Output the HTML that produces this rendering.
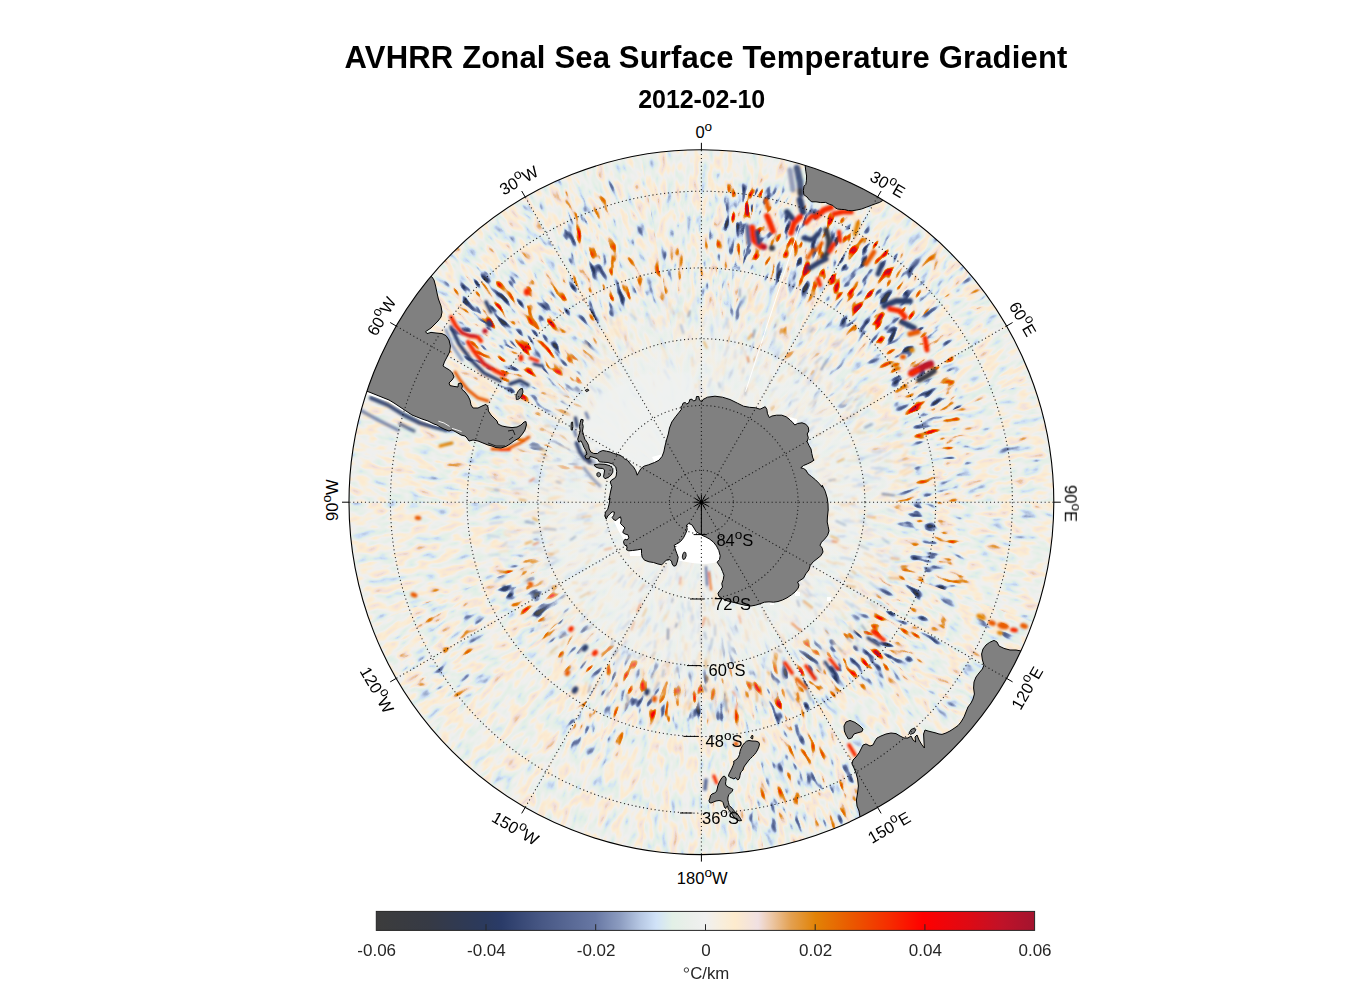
<!DOCTYPE html>
<html><head><meta charset="utf-8"><title>AVHRR Zonal Sea Surface Temperature Gradient</title>
<style>html,body{margin:0;padding:0;background:#fff}svg{display:block}text{font-family:"Liberation Sans", sans-serif}</style></head>
<body>
<svg width="1356" height="1000" viewBox="0 0 1356 1000">
<defs>
<clipPath id="disc"><circle cx="701.4" cy="502.2" r="352.4"/></clipPath>
<linearGradient id="cmap" x1="0" x2="1" y1="0" y2="0"><stop offset="0" stop-color="#3c3c3c"/><stop offset="0.08" stop-color="#363a45"/><stop offset="0.167" stop-color="#2b3a5e"/><stop offset="0.19" stop-color="#2a3b68"/><stop offset="0.25" stop-color="#475784"/><stop offset="0.333" stop-color="#6878a4"/><stop offset="0.37" stop-color="#8c9cc0"/><stop offset="0.4" stop-color="#b5c6e2"/><stop offset="0.425" stop-color="#d0e2f8"/><stop offset="0.45" stop-color="#e2f0e6"/><stop offset="0.475" stop-color="#eaefea"/><stop offset="0.5" stop-color="#f0f0f0"/><stop offset="0.525" stop-color="#f8eedc"/><stop offset="0.545" stop-color="#fdebcd"/><stop offset="0.58" stop-color="#f0e0e2"/><stop offset="0.6" stop-color="#ecc8a8"/><stop offset="0.63" stop-color="#e3a050"/><stop offset="0.667" stop-color="#e28306"/><stop offset="0.72" stop-color="#ea5a00"/><stop offset="0.78" stop-color="#f62c00"/><stop offset="0.83" stop-color="#ff0000"/><stop offset="0.9" stop-color="#de0a14"/><stop offset="0.95" stop-color="#c01228"/><stop offset="1" stop-color="#a3142f"/></linearGradient>
</defs>
<rect width="1356" height="1000" fill="#fff"/>
<g clip-path="url(#disc)">
<circle cx="701.4" cy="502.2" r="354.4" fill="#edf0ee"/>
<defs>
<g id="amp"><ellipse cx="600.0" cy="245.0" rx="120.0" ry="75.0" transform="rotate(0 600.0 245.0)" fill="rgb(56,56,56)"/><ellipse cx="460.0" cy="480.0" rx="60.0" ry="25.0" transform="rotate(0 460.0 480.0)" fill="rgb(51,51,51)"/><ellipse cx="1007.5" cy="470.0" rx="37.5" ry="130.0" transform="rotate(0 1007.5 470.0)" fill="rgb(40,40,40)"/><ellipse cx="782.5" cy="792.5" rx="82.5" ry="57.5" transform="rotate(0 782.5 792.5)" fill="rgb(56,56,56)"/><ellipse cx="442.5" cy="645.0" rx="47.5" ry="60.0" transform="rotate(0 442.5 645.0)" fill="rgb(76,76,76)"/><ellipse cx="805.0" cy="365.0" rx="65.0" ry="65.0" transform="rotate(0 805.0 365.0)" fill="rgb(56,56,56)"/><ellipse cx="957.5" cy="285.0" rx="42.5" ry="60.0" transform="rotate(0 957.5 285.0)" fill="rgb(71,71,71)"/><ellipse cx="650.0" cy="275.0" rx="50.0" ry="25.0" transform="rotate(0 650.0 275.0)" fill="rgb(89,89,89)"/><ellipse cx="930.0" cy="680.0" rx="70.0" ry="40.0" transform="rotate(0 930.0 680.0)" fill="rgb(45,45,45)"/><ellipse cx="750.0" cy="680.0" rx="50.0" ry="60.0" transform="rotate(0 750.0 680.0)" fill="rgb(63,63,63)"/><ellipse cx="590.0" cy="240.0" rx="35.0" ry="55.0" transform="rotate(0 590.0 240.0)" fill="rgb(140,140,140)"/><ellipse cx="725.0" cy="255.0" rx="25.0" ry="80.0" transform="rotate(0 725.0 255.0)" fill="rgb(107,107,107)"/><ellipse cx="455.0" cy="245.0" rx="20.0" ry="20.0" transform="rotate(0 455.0 245.0)" fill="rgb(102,102,102)"/><ellipse cx="542.5" cy="375.0" rx="22.5" ry="35.0" transform="rotate(0 542.5 375.0)" fill="rgb(114,114,114)"/><path d="M525 440 L560 455 L598 470" fill="none" stroke="rgb(114,114,114)" stroke-width="34" stroke-linecap="round" stroke-linejoin="round"/><path d="M518 582 L569 638 L599 660 L658 697 L705 700" fill="none" stroke="rgb(178,178,178)" stroke-width="46" stroke-linecap="round" stroke-linejoin="round"/><ellipse cx="597.5" cy="725.0" rx="42.5" ry="35.0" transform="rotate(0 597.5 725.0)" fill="rgb(127,127,127)"/><ellipse cx="540.0" cy="545.0" rx="12.0" ry="23.0" transform="rotate(0 540.0 545.0)" fill="rgb(96,96,96)"/><ellipse cx="907.5" cy="620.0" rx="42.5" ry="45.0" transform="rotate(0 907.5 620.0)" fill="rgb(127,127,127)"/><ellipse cx="810.0" cy="787.5" rx="50.0" ry="57.5" transform="rotate(0 810.0 787.5)" fill="rgb(122,122,122)"/><ellipse cx="731.0" cy="690.0" rx="34.0" ry="35.0" transform="rotate(0 731.0 690.0)" fill="rgb(127,127,127)"/><path d="M975 614 L1020 630" fill="none" stroke="rgb(127,127,127)" stroke-width="22" stroke-linecap="round" stroke-linejoin="round"/><ellipse cx="522.5" cy="336.5" rx="77.5" ry="68.5" transform="rotate(0 522.5 336.5)" fill="rgb(127,127,127)"/><path d="M520 430 L560 452 L600 468" fill="none" stroke="rgb(127,127,127)" stroke-width="30" stroke-linecap="round" stroke-linejoin="round"/><path d="M480 300 L520 345 L550 380" fill="none" stroke="rgb(216,216,216)" stroke-width="70" stroke-linecap="round" stroke-linejoin="round"/><path d="M560 300 L625 300" fill="none" stroke="rgb(165,165,165)" stroke-width="42" stroke-linecap="round" stroke-linejoin="round"/><path d="M765 225 L800 250 L850 262 L878 290" fill="none" stroke="rgb(255,255,255)" stroke-width="80" stroke-linecap="round" stroke-linejoin="round"/><path d="M860 300 L905 340 L930 395" fill="none" stroke="rgb(204,204,204)" stroke-width="62" stroke-linecap="round" stroke-linejoin="round"/><path d="M935 410 L940 465 L925 520 L935 575" fill="none" stroke="rgb(191,191,191)" stroke-width="56" stroke-linecap="round" stroke-linejoin="round"/><path d="M790 700 L815 665 L850 660 L888 635" fill="none" stroke="rgb(198,198,198)" stroke-width="58" stroke-linecap="round" stroke-linejoin="round"/></g>
<clipPath id="wedge"><path d="M701.4 502.2 L638.1 148.4 L638.1 144.8 L764.7 144.8 L764.7 148.4Z"/></clipPath>
<filter id="nf0" x="604" y="120" width="194" height="412" filterUnits="userSpaceOnUse" color-interpolation-filters="sRGB"><feGaussianBlur in="SourceGraphic" stdDeviation="8" result="m"/><feTurbulence type="fractalNoise" baseFrequency="0.13 0.05" numOctaves="2" seed="1"/><feColorMatrix type="matrix" values="1 0 0 0 0 1 0 0 0 0 1 0 0 0 0 0 0 0 0 1"/><feComponentTransfer result="n2"><feFuncR type="table" tableValues="0.000 0.000 0.000 0.000 0.000 0.031 0.092 0.148 0.200 0.248 0.292 0.331 0.367 0.398 0.425 0.448 0.467 0.481 0.492 0.498 0.500 0.502 0.508 0.519 0.533 0.552 0.575 0.602 0.633 0.669 0.708 0.752 0.800 0.852 0.908 0.969 1.000 1.000 1.000 1.000 1.000"/><feFuncG type="table" tableValues="0.000 0.000 0.000 0.000 0.000 0.031 0.092 0.148 0.200 0.248 0.292 0.331 0.367 0.398 0.425 0.448 0.467 0.481 0.492 0.498 0.500 0.502 0.508 0.519 0.533 0.552 0.575 0.602 0.633 0.669 0.708 0.752 0.800 0.852 0.908 0.969 1.000 1.000 1.000 1.000 1.000"/><feFuncB type="table" tableValues="0.000 0.000 0.000 0.000 0.000 0.031 0.092 0.148 0.200 0.248 0.292 0.331 0.367 0.398 0.425 0.448 0.467 0.481 0.492 0.498 0.500 0.502 0.508 0.519 0.533 0.552 0.575 0.602 0.633 0.669 0.708 0.752 0.800 0.852 0.908 0.969 1.000 1.000 1.000 1.000 1.000"/></feComponentTransfer><feComposite in="n2" in2="m" operator="arithmetic" k1="1.8" k2="0" k3="-0.9" k4="0.5" result="c1"/><feTurbulence type="fractalNoise" baseFrequency="0.12 0.052" numOctaves="2" seed="4"/><feColorMatrix type="matrix" values="1 0 0 0 0 1 0 0 0 0 1 0 0 0 0 0 0 0 0 1" result="n1"/><feComposite in="c1" in2="n1" operator="arithmetic" k1="0" k2="1" k3="0.3" k4="-0.15"/><feColorMatrix type="matrix" values="1 0 0 0 0 1 0 0 0 0 1 0 0 0 0 0 0 0 0 1"/><feComponentTransfer><feFuncR type="table" tableValues="0.235 0.232 0.228 0.224 0.221 0.217 0.213 0.208 0.202 0.196 0.189 0.183 0.177 0.171 0.167 0.165 0.184 0.207 0.231 0.255 0.278 0.298 0.317 0.337 0.356 0.376 0.395 0.425 0.473 0.520 0.576 0.643 0.710 0.763 0.816 0.851 0.886 0.902 0.918 0.929 0.941 0.957 0.973 0.985 0.985 0.967 0.948 0.935 0.925 0.911 0.896 0.889 0.888 0.887 0.891 0.898 0.906 0.913 0.922 0.931 0.941 0.951 0.961 0.970 0.979 0.988 0.996 0.986 0.963 0.940 0.917 0.894 0.871 0.841 0.812 0.782 0.753 0.725 0.696 0.668 0.639"/><feFuncG type="table" tableValues="0.235 0.234 0.233 0.232 0.230 0.229 0.228 0.227 0.227 0.227 0.227 0.227 0.227 0.227 0.229 0.231 0.250 0.273 0.295 0.318 0.341 0.361 0.380 0.400 0.419 0.439 0.458 0.488 0.535 0.583 0.639 0.708 0.776 0.831 0.886 0.914 0.941 0.939 0.937 0.939 0.941 0.937 0.933 0.926 0.915 0.900 0.885 0.843 0.784 0.719 0.654 0.604 0.566 0.528 0.489 0.452 0.414 0.376 0.338 0.300 0.263 0.225 0.188 0.147 0.104 0.060 0.017 0.004 0.011 0.018 0.025 0.032 0.039 0.047 0.055 0.063 0.071 0.073 0.075 0.076 0.078"/><feFuncB type="table" tableValues="0.235 0.241 0.246 0.252 0.257 0.263 0.268 0.279 0.293 0.307 0.321 0.335 0.349 0.364 0.382 0.404 0.426 0.449 0.472 0.495 0.518 0.537 0.555 0.574 0.593 0.612 0.631 0.656 0.694 0.731 0.775 0.831 0.886 0.929 0.973 0.937 0.902 0.910 0.918 0.929 0.941 0.902 0.863 0.826 0.816 0.845 0.875 0.801 0.659 0.515 0.371 0.255 0.157 0.059 0.020 0.014 0.009 0.003 0.000 0.000 0.000 0.000 0.000 0.000 0.000 0.000 0.000 0.008 0.022 0.036 0.050 0.064 0.078 0.098 0.118 0.137 0.157 0.164 0.171 0.177 0.184"/></feComponentTransfer></filter>
<filter id="nf1" x="604" y="120" width="194" height="412" filterUnits="userSpaceOnUse" color-interpolation-filters="sRGB"><feGaussianBlur in="SourceGraphic" stdDeviation="8" result="m"/><feTurbulence type="fractalNoise" baseFrequency="0.13 0.05" numOctaves="2" seed="8"/><feColorMatrix type="matrix" values="1 0 0 0 0 1 0 0 0 0 1 0 0 0 0 0 0 0 0 1"/><feComponentTransfer result="n2"><feFuncR type="table" tableValues="0.000 0.000 0.000 0.000 0.000 0.031 0.092 0.148 0.200 0.248 0.292 0.331 0.367 0.398 0.425 0.448 0.467 0.481 0.492 0.498 0.500 0.502 0.508 0.519 0.533 0.552 0.575 0.602 0.633 0.669 0.708 0.752 0.800 0.852 0.908 0.969 1.000 1.000 1.000 1.000 1.000"/><feFuncG type="table" tableValues="0.000 0.000 0.000 0.000 0.000 0.031 0.092 0.148 0.200 0.248 0.292 0.331 0.367 0.398 0.425 0.448 0.467 0.481 0.492 0.498 0.500 0.502 0.508 0.519 0.533 0.552 0.575 0.602 0.633 0.669 0.708 0.752 0.800 0.852 0.908 0.969 1.000 1.000 1.000 1.000 1.000"/><feFuncB type="table" tableValues="0.000 0.000 0.000 0.000 0.000 0.031 0.092 0.148 0.200 0.248 0.292 0.331 0.367 0.398 0.425 0.448 0.467 0.481 0.492 0.498 0.500 0.502 0.508 0.519 0.533 0.552 0.575 0.602 0.633 0.669 0.708 0.752 0.800 0.852 0.908 0.969 1.000 1.000 1.000 1.000 1.000"/></feComponentTransfer><feComposite in="n2" in2="m" operator="arithmetic" k1="1.8" k2="0" k3="-0.9" k4="0.5" result="c1"/><feTurbulence type="fractalNoise" baseFrequency="0.12 0.052" numOctaves="2" seed="11"/><feColorMatrix type="matrix" values="1 0 0 0 0 1 0 0 0 0 1 0 0 0 0 0 0 0 0 1" result="n1"/><feComposite in="c1" in2="n1" operator="arithmetic" k1="0" k2="1" k3="0.3" k4="-0.15"/><feColorMatrix type="matrix" values="1 0 0 0 0 1 0 0 0 0 1 0 0 0 0 0 0 0 0 1"/><feComponentTransfer><feFuncR type="table" tableValues="0.235 0.232 0.228 0.224 0.221 0.217 0.213 0.208 0.202 0.196 0.189 0.183 0.177 0.171 0.167 0.165 0.184 0.207 0.231 0.255 0.278 0.298 0.317 0.337 0.356 0.376 0.395 0.425 0.473 0.520 0.576 0.643 0.710 0.763 0.816 0.851 0.886 0.902 0.918 0.929 0.941 0.957 0.973 0.985 0.985 0.967 0.948 0.935 0.925 0.911 0.896 0.889 0.888 0.887 0.891 0.898 0.906 0.913 0.922 0.931 0.941 0.951 0.961 0.970 0.979 0.988 0.996 0.986 0.963 0.940 0.917 0.894 0.871 0.841 0.812 0.782 0.753 0.725 0.696 0.668 0.639"/><feFuncG type="table" tableValues="0.235 0.234 0.233 0.232 0.230 0.229 0.228 0.227 0.227 0.227 0.227 0.227 0.227 0.227 0.229 0.231 0.250 0.273 0.295 0.318 0.341 0.361 0.380 0.400 0.419 0.439 0.458 0.488 0.535 0.583 0.639 0.708 0.776 0.831 0.886 0.914 0.941 0.939 0.937 0.939 0.941 0.937 0.933 0.926 0.915 0.900 0.885 0.843 0.784 0.719 0.654 0.604 0.566 0.528 0.489 0.452 0.414 0.376 0.338 0.300 0.263 0.225 0.188 0.147 0.104 0.060 0.017 0.004 0.011 0.018 0.025 0.032 0.039 0.047 0.055 0.063 0.071 0.073 0.075 0.076 0.078"/><feFuncB type="table" tableValues="0.235 0.241 0.246 0.252 0.257 0.263 0.268 0.279 0.293 0.307 0.321 0.335 0.349 0.364 0.382 0.404 0.426 0.449 0.472 0.495 0.518 0.537 0.555 0.574 0.593 0.612 0.631 0.656 0.694 0.731 0.775 0.831 0.886 0.929 0.973 0.937 0.902 0.910 0.918 0.929 0.941 0.902 0.863 0.826 0.816 0.845 0.875 0.801 0.659 0.515 0.371 0.255 0.157 0.059 0.020 0.014 0.009 0.003 0.000 0.000 0.000 0.000 0.000 0.000 0.000 0.000 0.000 0.008 0.022 0.036 0.050 0.064 0.078 0.098 0.118 0.137 0.157 0.164 0.171 0.177 0.184"/></feComponentTransfer></filter>
<filter id="nf2" x="604" y="120" width="194" height="412" filterUnits="userSpaceOnUse" color-interpolation-filters="sRGB"><feGaussianBlur in="SourceGraphic" stdDeviation="8" result="m"/><feTurbulence type="fractalNoise" baseFrequency="0.13 0.05" numOctaves="2" seed="15"/><feColorMatrix type="matrix" values="1 0 0 0 0 1 0 0 0 0 1 0 0 0 0 0 0 0 0 1"/><feComponentTransfer result="n2"><feFuncR type="table" tableValues="0.000 0.000 0.000 0.000 0.000 0.031 0.092 0.148 0.200 0.248 0.292 0.331 0.367 0.398 0.425 0.448 0.467 0.481 0.492 0.498 0.500 0.502 0.508 0.519 0.533 0.552 0.575 0.602 0.633 0.669 0.708 0.752 0.800 0.852 0.908 0.969 1.000 1.000 1.000 1.000 1.000"/><feFuncG type="table" tableValues="0.000 0.000 0.000 0.000 0.000 0.031 0.092 0.148 0.200 0.248 0.292 0.331 0.367 0.398 0.425 0.448 0.467 0.481 0.492 0.498 0.500 0.502 0.508 0.519 0.533 0.552 0.575 0.602 0.633 0.669 0.708 0.752 0.800 0.852 0.908 0.969 1.000 1.000 1.000 1.000 1.000"/><feFuncB type="table" tableValues="0.000 0.000 0.000 0.000 0.000 0.031 0.092 0.148 0.200 0.248 0.292 0.331 0.367 0.398 0.425 0.448 0.467 0.481 0.492 0.498 0.500 0.502 0.508 0.519 0.533 0.552 0.575 0.602 0.633 0.669 0.708 0.752 0.800 0.852 0.908 0.969 1.000 1.000 1.000 1.000 1.000"/></feComponentTransfer><feComposite in="n2" in2="m" operator="arithmetic" k1="1.8" k2="0" k3="-0.9" k4="0.5" result="c1"/><feTurbulence type="fractalNoise" baseFrequency="0.12 0.052" numOctaves="2" seed="18"/><feColorMatrix type="matrix" values="1 0 0 0 0 1 0 0 0 0 1 0 0 0 0 0 0 0 0 1" result="n1"/><feComposite in="c1" in2="n1" operator="arithmetic" k1="0" k2="1" k3="0.3" k4="-0.15"/><feColorMatrix type="matrix" values="1 0 0 0 0 1 0 0 0 0 1 0 0 0 0 0 0 0 0 1"/><feComponentTransfer><feFuncR type="table" tableValues="0.235 0.232 0.228 0.224 0.221 0.217 0.213 0.208 0.202 0.196 0.189 0.183 0.177 0.171 0.167 0.165 0.184 0.207 0.231 0.255 0.278 0.298 0.317 0.337 0.356 0.376 0.395 0.425 0.473 0.520 0.576 0.643 0.710 0.763 0.816 0.851 0.886 0.902 0.918 0.929 0.941 0.957 0.973 0.985 0.985 0.967 0.948 0.935 0.925 0.911 0.896 0.889 0.888 0.887 0.891 0.898 0.906 0.913 0.922 0.931 0.941 0.951 0.961 0.970 0.979 0.988 0.996 0.986 0.963 0.940 0.917 0.894 0.871 0.841 0.812 0.782 0.753 0.725 0.696 0.668 0.639"/><feFuncG type="table" tableValues="0.235 0.234 0.233 0.232 0.230 0.229 0.228 0.227 0.227 0.227 0.227 0.227 0.227 0.227 0.229 0.231 0.250 0.273 0.295 0.318 0.341 0.361 0.380 0.400 0.419 0.439 0.458 0.488 0.535 0.583 0.639 0.708 0.776 0.831 0.886 0.914 0.941 0.939 0.937 0.939 0.941 0.937 0.933 0.926 0.915 0.900 0.885 0.843 0.784 0.719 0.654 0.604 0.566 0.528 0.489 0.452 0.414 0.376 0.338 0.300 0.263 0.225 0.188 0.147 0.104 0.060 0.017 0.004 0.011 0.018 0.025 0.032 0.039 0.047 0.055 0.063 0.071 0.073 0.075 0.076 0.078"/><feFuncB type="table" tableValues="0.235 0.241 0.246 0.252 0.257 0.263 0.268 0.279 0.293 0.307 0.321 0.335 0.349 0.364 0.382 0.404 0.426 0.449 0.472 0.495 0.518 0.537 0.555 0.574 0.593 0.612 0.631 0.656 0.694 0.731 0.775 0.831 0.886 0.929 0.973 0.937 0.902 0.910 0.918 0.929 0.941 0.902 0.863 0.826 0.816 0.845 0.875 0.801 0.659 0.515 0.371 0.255 0.157 0.059 0.020 0.014 0.009 0.003 0.000 0.000 0.000 0.000 0.000 0.000 0.000 0.000 0.000 0.008 0.022 0.036 0.050 0.064 0.078 0.098 0.118 0.137 0.157 0.164 0.171 0.177 0.184"/></feComponentTransfer></filter>
<filter id="nf3" x="604" y="120" width="194" height="412" filterUnits="userSpaceOnUse" color-interpolation-filters="sRGB"><feGaussianBlur in="SourceGraphic" stdDeviation="8" result="m"/><feTurbulence type="fractalNoise" baseFrequency="0.13 0.05" numOctaves="2" seed="22"/><feColorMatrix type="matrix" values="1 0 0 0 0 1 0 0 0 0 1 0 0 0 0 0 0 0 0 1"/><feComponentTransfer result="n2"><feFuncR type="table" tableValues="0.000 0.000 0.000 0.000 0.000 0.031 0.092 0.148 0.200 0.248 0.292 0.331 0.367 0.398 0.425 0.448 0.467 0.481 0.492 0.498 0.500 0.502 0.508 0.519 0.533 0.552 0.575 0.602 0.633 0.669 0.708 0.752 0.800 0.852 0.908 0.969 1.000 1.000 1.000 1.000 1.000"/><feFuncG type="table" tableValues="0.000 0.000 0.000 0.000 0.000 0.031 0.092 0.148 0.200 0.248 0.292 0.331 0.367 0.398 0.425 0.448 0.467 0.481 0.492 0.498 0.500 0.502 0.508 0.519 0.533 0.552 0.575 0.602 0.633 0.669 0.708 0.752 0.800 0.852 0.908 0.969 1.000 1.000 1.000 1.000 1.000"/><feFuncB type="table" tableValues="0.000 0.000 0.000 0.000 0.000 0.031 0.092 0.148 0.200 0.248 0.292 0.331 0.367 0.398 0.425 0.448 0.467 0.481 0.492 0.498 0.500 0.502 0.508 0.519 0.533 0.552 0.575 0.602 0.633 0.669 0.708 0.752 0.800 0.852 0.908 0.969 1.000 1.000 1.000 1.000 1.000"/></feComponentTransfer><feComposite in="n2" in2="m" operator="arithmetic" k1="1.8" k2="0" k3="-0.9" k4="0.5" result="c1"/><feTurbulence type="fractalNoise" baseFrequency="0.12 0.052" numOctaves="2" seed="25"/><feColorMatrix type="matrix" values="1 0 0 0 0 1 0 0 0 0 1 0 0 0 0 0 0 0 0 1" result="n1"/><feComposite in="c1" in2="n1" operator="arithmetic" k1="0" k2="1" k3="0.3" k4="-0.15"/><feColorMatrix type="matrix" values="1 0 0 0 0 1 0 0 0 0 1 0 0 0 0 0 0 0 0 1"/><feComponentTransfer><feFuncR type="table" tableValues="0.235 0.232 0.228 0.224 0.221 0.217 0.213 0.208 0.202 0.196 0.189 0.183 0.177 0.171 0.167 0.165 0.184 0.207 0.231 0.255 0.278 0.298 0.317 0.337 0.356 0.376 0.395 0.425 0.473 0.520 0.576 0.643 0.710 0.763 0.816 0.851 0.886 0.902 0.918 0.929 0.941 0.957 0.973 0.985 0.985 0.967 0.948 0.935 0.925 0.911 0.896 0.889 0.888 0.887 0.891 0.898 0.906 0.913 0.922 0.931 0.941 0.951 0.961 0.970 0.979 0.988 0.996 0.986 0.963 0.940 0.917 0.894 0.871 0.841 0.812 0.782 0.753 0.725 0.696 0.668 0.639"/><feFuncG type="table" tableValues="0.235 0.234 0.233 0.232 0.230 0.229 0.228 0.227 0.227 0.227 0.227 0.227 0.227 0.227 0.229 0.231 0.250 0.273 0.295 0.318 0.341 0.361 0.380 0.400 0.419 0.439 0.458 0.488 0.535 0.583 0.639 0.708 0.776 0.831 0.886 0.914 0.941 0.939 0.937 0.939 0.941 0.937 0.933 0.926 0.915 0.900 0.885 0.843 0.784 0.719 0.654 0.604 0.566 0.528 0.489 0.452 0.414 0.376 0.338 0.300 0.263 0.225 0.188 0.147 0.104 0.060 0.017 0.004 0.011 0.018 0.025 0.032 0.039 0.047 0.055 0.063 0.071 0.073 0.075 0.076 0.078"/><feFuncB type="table" tableValues="0.235 0.241 0.246 0.252 0.257 0.263 0.268 0.279 0.293 0.307 0.321 0.335 0.349 0.364 0.382 0.404 0.426 0.449 0.472 0.495 0.518 0.537 0.555 0.574 0.593 0.612 0.631 0.656 0.694 0.731 0.775 0.831 0.886 0.929 0.973 0.937 0.902 0.910 0.918 0.929 0.941 0.902 0.863 0.826 0.816 0.845 0.875 0.801 0.659 0.515 0.371 0.255 0.157 0.059 0.020 0.014 0.009 0.003 0.000 0.000 0.000 0.000 0.000 0.000 0.000 0.000 0.000 0.008 0.022 0.036 0.050 0.064 0.078 0.098 0.118 0.137 0.157 0.164 0.171 0.177 0.184"/></feComponentTransfer></filter>
<filter id="nf4" x="604" y="120" width="194" height="412" filterUnits="userSpaceOnUse" color-interpolation-filters="sRGB"><feGaussianBlur in="SourceGraphic" stdDeviation="8" result="m"/><feTurbulence type="fractalNoise" baseFrequency="0.13 0.05" numOctaves="2" seed="29"/><feColorMatrix type="matrix" values="1 0 0 0 0 1 0 0 0 0 1 0 0 0 0 0 0 0 0 1"/><feComponentTransfer result="n2"><feFuncR type="table" tableValues="0.000 0.000 0.000 0.000 0.000 0.031 0.092 0.148 0.200 0.248 0.292 0.331 0.367 0.398 0.425 0.448 0.467 0.481 0.492 0.498 0.500 0.502 0.508 0.519 0.533 0.552 0.575 0.602 0.633 0.669 0.708 0.752 0.800 0.852 0.908 0.969 1.000 1.000 1.000 1.000 1.000"/><feFuncG type="table" tableValues="0.000 0.000 0.000 0.000 0.000 0.031 0.092 0.148 0.200 0.248 0.292 0.331 0.367 0.398 0.425 0.448 0.467 0.481 0.492 0.498 0.500 0.502 0.508 0.519 0.533 0.552 0.575 0.602 0.633 0.669 0.708 0.752 0.800 0.852 0.908 0.969 1.000 1.000 1.000 1.000 1.000"/><feFuncB type="table" tableValues="0.000 0.000 0.000 0.000 0.000 0.031 0.092 0.148 0.200 0.248 0.292 0.331 0.367 0.398 0.425 0.448 0.467 0.481 0.492 0.498 0.500 0.502 0.508 0.519 0.533 0.552 0.575 0.602 0.633 0.669 0.708 0.752 0.800 0.852 0.908 0.969 1.000 1.000 1.000 1.000 1.000"/></feComponentTransfer><feComposite in="n2" in2="m" operator="arithmetic" k1="1.8" k2="0" k3="-0.9" k4="0.5" result="c1"/><feTurbulence type="fractalNoise" baseFrequency="0.12 0.052" numOctaves="2" seed="32"/><feColorMatrix type="matrix" values="1 0 0 0 0 1 0 0 0 0 1 0 0 0 0 0 0 0 0 1" result="n1"/><feComposite in="c1" in2="n1" operator="arithmetic" k1="0" k2="1" k3="0.3" k4="-0.15"/><feColorMatrix type="matrix" values="1 0 0 0 0 1 0 0 0 0 1 0 0 0 0 0 0 0 0 1"/><feComponentTransfer><feFuncR type="table" tableValues="0.235 0.232 0.228 0.224 0.221 0.217 0.213 0.208 0.202 0.196 0.189 0.183 0.177 0.171 0.167 0.165 0.184 0.207 0.231 0.255 0.278 0.298 0.317 0.337 0.356 0.376 0.395 0.425 0.473 0.520 0.576 0.643 0.710 0.763 0.816 0.851 0.886 0.902 0.918 0.929 0.941 0.957 0.973 0.985 0.985 0.967 0.948 0.935 0.925 0.911 0.896 0.889 0.888 0.887 0.891 0.898 0.906 0.913 0.922 0.931 0.941 0.951 0.961 0.970 0.979 0.988 0.996 0.986 0.963 0.940 0.917 0.894 0.871 0.841 0.812 0.782 0.753 0.725 0.696 0.668 0.639"/><feFuncG type="table" tableValues="0.235 0.234 0.233 0.232 0.230 0.229 0.228 0.227 0.227 0.227 0.227 0.227 0.227 0.227 0.229 0.231 0.250 0.273 0.295 0.318 0.341 0.361 0.380 0.400 0.419 0.439 0.458 0.488 0.535 0.583 0.639 0.708 0.776 0.831 0.886 0.914 0.941 0.939 0.937 0.939 0.941 0.937 0.933 0.926 0.915 0.900 0.885 0.843 0.784 0.719 0.654 0.604 0.566 0.528 0.489 0.452 0.414 0.376 0.338 0.300 0.263 0.225 0.188 0.147 0.104 0.060 0.017 0.004 0.011 0.018 0.025 0.032 0.039 0.047 0.055 0.063 0.071 0.073 0.075 0.076 0.078"/><feFuncB type="table" tableValues="0.235 0.241 0.246 0.252 0.257 0.263 0.268 0.279 0.293 0.307 0.321 0.335 0.349 0.364 0.382 0.404 0.426 0.449 0.472 0.495 0.518 0.537 0.555 0.574 0.593 0.612 0.631 0.656 0.694 0.731 0.775 0.831 0.886 0.929 0.973 0.937 0.902 0.910 0.918 0.929 0.941 0.902 0.863 0.826 0.816 0.845 0.875 0.801 0.659 0.515 0.371 0.255 0.157 0.059 0.020 0.014 0.009 0.003 0.000 0.000 0.000 0.000 0.000 0.000 0.000 0.000 0.000 0.008 0.022 0.036 0.050 0.064 0.078 0.098 0.118 0.137 0.157 0.164 0.171 0.177 0.184"/></feComponentTransfer></filter>
<filter id="nf5" x="604" y="120" width="194" height="412" filterUnits="userSpaceOnUse" color-interpolation-filters="sRGB"><feGaussianBlur in="SourceGraphic" stdDeviation="8" result="m"/><feTurbulence type="fractalNoise" baseFrequency="0.13 0.05" numOctaves="2" seed="36"/><feColorMatrix type="matrix" values="1 0 0 0 0 1 0 0 0 0 1 0 0 0 0 0 0 0 0 1"/><feComponentTransfer result="n2"><feFuncR type="table" tableValues="0.000 0.000 0.000 0.000 0.000 0.031 0.092 0.148 0.200 0.248 0.292 0.331 0.367 0.398 0.425 0.448 0.467 0.481 0.492 0.498 0.500 0.502 0.508 0.519 0.533 0.552 0.575 0.602 0.633 0.669 0.708 0.752 0.800 0.852 0.908 0.969 1.000 1.000 1.000 1.000 1.000"/><feFuncG type="table" tableValues="0.000 0.000 0.000 0.000 0.000 0.031 0.092 0.148 0.200 0.248 0.292 0.331 0.367 0.398 0.425 0.448 0.467 0.481 0.492 0.498 0.500 0.502 0.508 0.519 0.533 0.552 0.575 0.602 0.633 0.669 0.708 0.752 0.800 0.852 0.908 0.969 1.000 1.000 1.000 1.000 1.000"/><feFuncB type="table" tableValues="0.000 0.000 0.000 0.000 0.000 0.031 0.092 0.148 0.200 0.248 0.292 0.331 0.367 0.398 0.425 0.448 0.467 0.481 0.492 0.498 0.500 0.502 0.508 0.519 0.533 0.552 0.575 0.602 0.633 0.669 0.708 0.752 0.800 0.852 0.908 0.969 1.000 1.000 1.000 1.000 1.000"/></feComponentTransfer><feComposite in="n2" in2="m" operator="arithmetic" k1="1.8" k2="0" k3="-0.9" k4="0.5" result="c1"/><feTurbulence type="fractalNoise" baseFrequency="0.12 0.052" numOctaves="2" seed="39"/><feColorMatrix type="matrix" values="1 0 0 0 0 1 0 0 0 0 1 0 0 0 0 0 0 0 0 1" result="n1"/><feComposite in="c1" in2="n1" operator="arithmetic" k1="0" k2="1" k3="0.3" k4="-0.15"/><feColorMatrix type="matrix" values="1 0 0 0 0 1 0 0 0 0 1 0 0 0 0 0 0 0 0 1"/><feComponentTransfer><feFuncR type="table" tableValues="0.235 0.232 0.228 0.224 0.221 0.217 0.213 0.208 0.202 0.196 0.189 0.183 0.177 0.171 0.167 0.165 0.184 0.207 0.231 0.255 0.278 0.298 0.317 0.337 0.356 0.376 0.395 0.425 0.473 0.520 0.576 0.643 0.710 0.763 0.816 0.851 0.886 0.902 0.918 0.929 0.941 0.957 0.973 0.985 0.985 0.967 0.948 0.935 0.925 0.911 0.896 0.889 0.888 0.887 0.891 0.898 0.906 0.913 0.922 0.931 0.941 0.951 0.961 0.970 0.979 0.988 0.996 0.986 0.963 0.940 0.917 0.894 0.871 0.841 0.812 0.782 0.753 0.725 0.696 0.668 0.639"/><feFuncG type="table" tableValues="0.235 0.234 0.233 0.232 0.230 0.229 0.228 0.227 0.227 0.227 0.227 0.227 0.227 0.227 0.229 0.231 0.250 0.273 0.295 0.318 0.341 0.361 0.380 0.400 0.419 0.439 0.458 0.488 0.535 0.583 0.639 0.708 0.776 0.831 0.886 0.914 0.941 0.939 0.937 0.939 0.941 0.937 0.933 0.926 0.915 0.900 0.885 0.843 0.784 0.719 0.654 0.604 0.566 0.528 0.489 0.452 0.414 0.376 0.338 0.300 0.263 0.225 0.188 0.147 0.104 0.060 0.017 0.004 0.011 0.018 0.025 0.032 0.039 0.047 0.055 0.063 0.071 0.073 0.075 0.076 0.078"/><feFuncB type="table" tableValues="0.235 0.241 0.246 0.252 0.257 0.263 0.268 0.279 0.293 0.307 0.321 0.335 0.349 0.364 0.382 0.404 0.426 0.449 0.472 0.495 0.518 0.537 0.555 0.574 0.593 0.612 0.631 0.656 0.694 0.731 0.775 0.831 0.886 0.929 0.973 0.937 0.902 0.910 0.918 0.929 0.941 0.902 0.863 0.826 0.816 0.845 0.875 0.801 0.659 0.515 0.371 0.255 0.157 0.059 0.020 0.014 0.009 0.003 0.000 0.000 0.000 0.000 0.000 0.000 0.000 0.000 0.000 0.008 0.022 0.036 0.050 0.064 0.078 0.098 0.118 0.137 0.157 0.164 0.171 0.177 0.184"/></feComponentTransfer></filter>
<filter id="nf6" x="604" y="120" width="194" height="412" filterUnits="userSpaceOnUse" color-interpolation-filters="sRGB"><feGaussianBlur in="SourceGraphic" stdDeviation="8" result="m"/><feTurbulence type="fractalNoise" baseFrequency="0.13 0.05" numOctaves="2" seed="43"/><feColorMatrix type="matrix" values="1 0 0 0 0 1 0 0 0 0 1 0 0 0 0 0 0 0 0 1"/><feComponentTransfer result="n2"><feFuncR type="table" tableValues="0.000 0.000 0.000 0.000 0.000 0.031 0.092 0.148 0.200 0.248 0.292 0.331 0.367 0.398 0.425 0.448 0.467 0.481 0.492 0.498 0.500 0.502 0.508 0.519 0.533 0.552 0.575 0.602 0.633 0.669 0.708 0.752 0.800 0.852 0.908 0.969 1.000 1.000 1.000 1.000 1.000"/><feFuncG type="table" tableValues="0.000 0.000 0.000 0.000 0.000 0.031 0.092 0.148 0.200 0.248 0.292 0.331 0.367 0.398 0.425 0.448 0.467 0.481 0.492 0.498 0.500 0.502 0.508 0.519 0.533 0.552 0.575 0.602 0.633 0.669 0.708 0.752 0.800 0.852 0.908 0.969 1.000 1.000 1.000 1.000 1.000"/><feFuncB type="table" tableValues="0.000 0.000 0.000 0.000 0.000 0.031 0.092 0.148 0.200 0.248 0.292 0.331 0.367 0.398 0.425 0.448 0.467 0.481 0.492 0.498 0.500 0.502 0.508 0.519 0.533 0.552 0.575 0.602 0.633 0.669 0.708 0.752 0.800 0.852 0.908 0.969 1.000 1.000 1.000 1.000 1.000"/></feComponentTransfer><feComposite in="n2" in2="m" operator="arithmetic" k1="1.8" k2="0" k3="-0.9" k4="0.5" result="c1"/><feTurbulence type="fractalNoise" baseFrequency="0.12 0.052" numOctaves="2" seed="46"/><feColorMatrix type="matrix" values="1 0 0 0 0 1 0 0 0 0 1 0 0 0 0 0 0 0 0 1" result="n1"/><feComposite in="c1" in2="n1" operator="arithmetic" k1="0" k2="1" k3="0.3" k4="-0.15"/><feColorMatrix type="matrix" values="1 0 0 0 0 1 0 0 0 0 1 0 0 0 0 0 0 0 0 1"/><feComponentTransfer><feFuncR type="table" tableValues="0.235 0.232 0.228 0.224 0.221 0.217 0.213 0.208 0.202 0.196 0.189 0.183 0.177 0.171 0.167 0.165 0.184 0.207 0.231 0.255 0.278 0.298 0.317 0.337 0.356 0.376 0.395 0.425 0.473 0.520 0.576 0.643 0.710 0.763 0.816 0.851 0.886 0.902 0.918 0.929 0.941 0.957 0.973 0.985 0.985 0.967 0.948 0.935 0.925 0.911 0.896 0.889 0.888 0.887 0.891 0.898 0.906 0.913 0.922 0.931 0.941 0.951 0.961 0.970 0.979 0.988 0.996 0.986 0.963 0.940 0.917 0.894 0.871 0.841 0.812 0.782 0.753 0.725 0.696 0.668 0.639"/><feFuncG type="table" tableValues="0.235 0.234 0.233 0.232 0.230 0.229 0.228 0.227 0.227 0.227 0.227 0.227 0.227 0.227 0.229 0.231 0.250 0.273 0.295 0.318 0.341 0.361 0.380 0.400 0.419 0.439 0.458 0.488 0.535 0.583 0.639 0.708 0.776 0.831 0.886 0.914 0.941 0.939 0.937 0.939 0.941 0.937 0.933 0.926 0.915 0.900 0.885 0.843 0.784 0.719 0.654 0.604 0.566 0.528 0.489 0.452 0.414 0.376 0.338 0.300 0.263 0.225 0.188 0.147 0.104 0.060 0.017 0.004 0.011 0.018 0.025 0.032 0.039 0.047 0.055 0.063 0.071 0.073 0.075 0.076 0.078"/><feFuncB type="table" tableValues="0.235 0.241 0.246 0.252 0.257 0.263 0.268 0.279 0.293 0.307 0.321 0.335 0.349 0.364 0.382 0.404 0.426 0.449 0.472 0.495 0.518 0.537 0.555 0.574 0.593 0.612 0.631 0.656 0.694 0.731 0.775 0.831 0.886 0.929 0.973 0.937 0.902 0.910 0.918 0.929 0.941 0.902 0.863 0.826 0.816 0.845 0.875 0.801 0.659 0.515 0.371 0.255 0.157 0.059 0.020 0.014 0.009 0.003 0.000 0.000 0.000 0.000 0.000 0.000 0.000 0.000 0.000 0.008 0.022 0.036 0.050 0.064 0.078 0.098 0.118 0.137 0.157 0.164 0.171 0.177 0.184"/></feComponentTransfer></filter>
<filter id="nf7" x="604" y="120" width="194" height="412" filterUnits="userSpaceOnUse" color-interpolation-filters="sRGB"><feGaussianBlur in="SourceGraphic" stdDeviation="8" result="m"/><feTurbulence type="fractalNoise" baseFrequency="0.13 0.05" numOctaves="2" seed="50"/><feColorMatrix type="matrix" values="1 0 0 0 0 1 0 0 0 0 1 0 0 0 0 0 0 0 0 1"/><feComponentTransfer result="n2"><feFuncR type="table" tableValues="0.000 0.000 0.000 0.000 0.000 0.031 0.092 0.148 0.200 0.248 0.292 0.331 0.367 0.398 0.425 0.448 0.467 0.481 0.492 0.498 0.500 0.502 0.508 0.519 0.533 0.552 0.575 0.602 0.633 0.669 0.708 0.752 0.800 0.852 0.908 0.969 1.000 1.000 1.000 1.000 1.000"/><feFuncG type="table" tableValues="0.000 0.000 0.000 0.000 0.000 0.031 0.092 0.148 0.200 0.248 0.292 0.331 0.367 0.398 0.425 0.448 0.467 0.481 0.492 0.498 0.500 0.502 0.508 0.519 0.533 0.552 0.575 0.602 0.633 0.669 0.708 0.752 0.800 0.852 0.908 0.969 1.000 1.000 1.000 1.000 1.000"/><feFuncB type="table" tableValues="0.000 0.000 0.000 0.000 0.000 0.031 0.092 0.148 0.200 0.248 0.292 0.331 0.367 0.398 0.425 0.448 0.467 0.481 0.492 0.498 0.500 0.502 0.508 0.519 0.533 0.552 0.575 0.602 0.633 0.669 0.708 0.752 0.800 0.852 0.908 0.969 1.000 1.000 1.000 1.000 1.000"/></feComponentTransfer><feComposite in="n2" in2="m" operator="arithmetic" k1="1.8" k2="0" k3="-0.9" k4="0.5" result="c1"/><feTurbulence type="fractalNoise" baseFrequency="0.12 0.052" numOctaves="2" seed="53"/><feColorMatrix type="matrix" values="1 0 0 0 0 1 0 0 0 0 1 0 0 0 0 0 0 0 0 1" result="n1"/><feComposite in="c1" in2="n1" operator="arithmetic" k1="0" k2="1" k3="0.3" k4="-0.15"/><feColorMatrix type="matrix" values="1 0 0 0 0 1 0 0 0 0 1 0 0 0 0 0 0 0 0 1"/><feComponentTransfer><feFuncR type="table" tableValues="0.235 0.232 0.228 0.224 0.221 0.217 0.213 0.208 0.202 0.196 0.189 0.183 0.177 0.171 0.167 0.165 0.184 0.207 0.231 0.255 0.278 0.298 0.317 0.337 0.356 0.376 0.395 0.425 0.473 0.520 0.576 0.643 0.710 0.763 0.816 0.851 0.886 0.902 0.918 0.929 0.941 0.957 0.973 0.985 0.985 0.967 0.948 0.935 0.925 0.911 0.896 0.889 0.888 0.887 0.891 0.898 0.906 0.913 0.922 0.931 0.941 0.951 0.961 0.970 0.979 0.988 0.996 0.986 0.963 0.940 0.917 0.894 0.871 0.841 0.812 0.782 0.753 0.725 0.696 0.668 0.639"/><feFuncG type="table" tableValues="0.235 0.234 0.233 0.232 0.230 0.229 0.228 0.227 0.227 0.227 0.227 0.227 0.227 0.227 0.229 0.231 0.250 0.273 0.295 0.318 0.341 0.361 0.380 0.400 0.419 0.439 0.458 0.488 0.535 0.583 0.639 0.708 0.776 0.831 0.886 0.914 0.941 0.939 0.937 0.939 0.941 0.937 0.933 0.926 0.915 0.900 0.885 0.843 0.784 0.719 0.654 0.604 0.566 0.528 0.489 0.452 0.414 0.376 0.338 0.300 0.263 0.225 0.188 0.147 0.104 0.060 0.017 0.004 0.011 0.018 0.025 0.032 0.039 0.047 0.055 0.063 0.071 0.073 0.075 0.076 0.078"/><feFuncB type="table" tableValues="0.235 0.241 0.246 0.252 0.257 0.263 0.268 0.279 0.293 0.307 0.321 0.335 0.349 0.364 0.382 0.404 0.426 0.449 0.472 0.495 0.518 0.537 0.555 0.574 0.593 0.612 0.631 0.656 0.694 0.731 0.775 0.831 0.886 0.929 0.973 0.937 0.902 0.910 0.918 0.929 0.941 0.902 0.863 0.826 0.816 0.845 0.875 0.801 0.659 0.515 0.371 0.255 0.157 0.059 0.020 0.014 0.009 0.003 0.000 0.000 0.000 0.000 0.000 0.000 0.000 0.000 0.000 0.008 0.022 0.036 0.050 0.064 0.078 0.098 0.118 0.137 0.157 0.164 0.171 0.177 0.184"/></feComponentTransfer></filter>
<filter id="nf8" x="604" y="120" width="194" height="412" filterUnits="userSpaceOnUse" color-interpolation-filters="sRGB"><feGaussianBlur in="SourceGraphic" stdDeviation="8" result="m"/><feTurbulence type="fractalNoise" baseFrequency="0.13 0.05" numOctaves="2" seed="57"/><feColorMatrix type="matrix" values="1 0 0 0 0 1 0 0 0 0 1 0 0 0 0 0 0 0 0 1"/><feComponentTransfer result="n2"><feFuncR type="table" tableValues="0.000 0.000 0.000 0.000 0.000 0.031 0.092 0.148 0.200 0.248 0.292 0.331 0.367 0.398 0.425 0.448 0.467 0.481 0.492 0.498 0.500 0.502 0.508 0.519 0.533 0.552 0.575 0.602 0.633 0.669 0.708 0.752 0.800 0.852 0.908 0.969 1.000 1.000 1.000 1.000 1.000"/><feFuncG type="table" tableValues="0.000 0.000 0.000 0.000 0.000 0.031 0.092 0.148 0.200 0.248 0.292 0.331 0.367 0.398 0.425 0.448 0.467 0.481 0.492 0.498 0.500 0.502 0.508 0.519 0.533 0.552 0.575 0.602 0.633 0.669 0.708 0.752 0.800 0.852 0.908 0.969 1.000 1.000 1.000 1.000 1.000"/><feFuncB type="table" tableValues="0.000 0.000 0.000 0.000 0.000 0.031 0.092 0.148 0.200 0.248 0.292 0.331 0.367 0.398 0.425 0.448 0.467 0.481 0.492 0.498 0.500 0.502 0.508 0.519 0.533 0.552 0.575 0.602 0.633 0.669 0.708 0.752 0.800 0.852 0.908 0.969 1.000 1.000 1.000 1.000 1.000"/></feComponentTransfer><feComposite in="n2" in2="m" operator="arithmetic" k1="1.8" k2="0" k3="-0.9" k4="0.5" result="c1"/><feTurbulence type="fractalNoise" baseFrequency="0.12 0.052" numOctaves="2" seed="60"/><feColorMatrix type="matrix" values="1 0 0 0 0 1 0 0 0 0 1 0 0 0 0 0 0 0 0 1" result="n1"/><feComposite in="c1" in2="n1" operator="arithmetic" k1="0" k2="1" k3="0.3" k4="-0.15"/><feColorMatrix type="matrix" values="1 0 0 0 0 1 0 0 0 0 1 0 0 0 0 0 0 0 0 1"/><feComponentTransfer><feFuncR type="table" tableValues="0.235 0.232 0.228 0.224 0.221 0.217 0.213 0.208 0.202 0.196 0.189 0.183 0.177 0.171 0.167 0.165 0.184 0.207 0.231 0.255 0.278 0.298 0.317 0.337 0.356 0.376 0.395 0.425 0.473 0.520 0.576 0.643 0.710 0.763 0.816 0.851 0.886 0.902 0.918 0.929 0.941 0.957 0.973 0.985 0.985 0.967 0.948 0.935 0.925 0.911 0.896 0.889 0.888 0.887 0.891 0.898 0.906 0.913 0.922 0.931 0.941 0.951 0.961 0.970 0.979 0.988 0.996 0.986 0.963 0.940 0.917 0.894 0.871 0.841 0.812 0.782 0.753 0.725 0.696 0.668 0.639"/><feFuncG type="table" tableValues="0.235 0.234 0.233 0.232 0.230 0.229 0.228 0.227 0.227 0.227 0.227 0.227 0.227 0.227 0.229 0.231 0.250 0.273 0.295 0.318 0.341 0.361 0.380 0.400 0.419 0.439 0.458 0.488 0.535 0.583 0.639 0.708 0.776 0.831 0.886 0.914 0.941 0.939 0.937 0.939 0.941 0.937 0.933 0.926 0.915 0.900 0.885 0.843 0.784 0.719 0.654 0.604 0.566 0.528 0.489 0.452 0.414 0.376 0.338 0.300 0.263 0.225 0.188 0.147 0.104 0.060 0.017 0.004 0.011 0.018 0.025 0.032 0.039 0.047 0.055 0.063 0.071 0.073 0.075 0.076 0.078"/><feFuncB type="table" tableValues="0.235 0.241 0.246 0.252 0.257 0.263 0.268 0.279 0.293 0.307 0.321 0.335 0.349 0.364 0.382 0.404 0.426 0.449 0.472 0.495 0.518 0.537 0.555 0.574 0.593 0.612 0.631 0.656 0.694 0.731 0.775 0.831 0.886 0.929 0.973 0.937 0.902 0.910 0.918 0.929 0.941 0.902 0.863 0.826 0.816 0.845 0.875 0.801 0.659 0.515 0.371 0.255 0.157 0.059 0.020 0.014 0.009 0.003 0.000 0.000 0.000 0.000 0.000 0.000 0.000 0.000 0.000 0.008 0.022 0.036 0.050 0.064 0.078 0.098 0.118 0.137 0.157 0.164 0.171 0.177 0.184"/></feComponentTransfer></filter>
<filter id="nf9" x="604" y="120" width="194" height="412" filterUnits="userSpaceOnUse" color-interpolation-filters="sRGB"><feGaussianBlur in="SourceGraphic" stdDeviation="8" result="m"/><feTurbulence type="fractalNoise" baseFrequency="0.13 0.05" numOctaves="2" seed="64"/><feColorMatrix type="matrix" values="1 0 0 0 0 1 0 0 0 0 1 0 0 0 0 0 0 0 0 1"/><feComponentTransfer result="n2"><feFuncR type="table" tableValues="0.000 0.000 0.000 0.000 0.000 0.031 0.092 0.148 0.200 0.248 0.292 0.331 0.367 0.398 0.425 0.448 0.467 0.481 0.492 0.498 0.500 0.502 0.508 0.519 0.533 0.552 0.575 0.602 0.633 0.669 0.708 0.752 0.800 0.852 0.908 0.969 1.000 1.000 1.000 1.000 1.000"/><feFuncG type="table" tableValues="0.000 0.000 0.000 0.000 0.000 0.031 0.092 0.148 0.200 0.248 0.292 0.331 0.367 0.398 0.425 0.448 0.467 0.481 0.492 0.498 0.500 0.502 0.508 0.519 0.533 0.552 0.575 0.602 0.633 0.669 0.708 0.752 0.800 0.852 0.908 0.969 1.000 1.000 1.000 1.000 1.000"/><feFuncB type="table" tableValues="0.000 0.000 0.000 0.000 0.000 0.031 0.092 0.148 0.200 0.248 0.292 0.331 0.367 0.398 0.425 0.448 0.467 0.481 0.492 0.498 0.500 0.502 0.508 0.519 0.533 0.552 0.575 0.602 0.633 0.669 0.708 0.752 0.800 0.852 0.908 0.969 1.000 1.000 1.000 1.000 1.000"/></feComponentTransfer><feComposite in="n2" in2="m" operator="arithmetic" k1="1.8" k2="0" k3="-0.9" k4="0.5" result="c1"/><feTurbulence type="fractalNoise" baseFrequency="0.12 0.052" numOctaves="2" seed="67"/><feColorMatrix type="matrix" values="1 0 0 0 0 1 0 0 0 0 1 0 0 0 0 0 0 0 0 1" result="n1"/><feComposite in="c1" in2="n1" operator="arithmetic" k1="0" k2="1" k3="0.3" k4="-0.15"/><feColorMatrix type="matrix" values="1 0 0 0 0 1 0 0 0 0 1 0 0 0 0 0 0 0 0 1"/><feComponentTransfer><feFuncR type="table" tableValues="0.235 0.232 0.228 0.224 0.221 0.217 0.213 0.208 0.202 0.196 0.189 0.183 0.177 0.171 0.167 0.165 0.184 0.207 0.231 0.255 0.278 0.298 0.317 0.337 0.356 0.376 0.395 0.425 0.473 0.520 0.576 0.643 0.710 0.763 0.816 0.851 0.886 0.902 0.918 0.929 0.941 0.957 0.973 0.985 0.985 0.967 0.948 0.935 0.925 0.911 0.896 0.889 0.888 0.887 0.891 0.898 0.906 0.913 0.922 0.931 0.941 0.951 0.961 0.970 0.979 0.988 0.996 0.986 0.963 0.940 0.917 0.894 0.871 0.841 0.812 0.782 0.753 0.725 0.696 0.668 0.639"/><feFuncG type="table" tableValues="0.235 0.234 0.233 0.232 0.230 0.229 0.228 0.227 0.227 0.227 0.227 0.227 0.227 0.227 0.229 0.231 0.250 0.273 0.295 0.318 0.341 0.361 0.380 0.400 0.419 0.439 0.458 0.488 0.535 0.583 0.639 0.708 0.776 0.831 0.886 0.914 0.941 0.939 0.937 0.939 0.941 0.937 0.933 0.926 0.915 0.900 0.885 0.843 0.784 0.719 0.654 0.604 0.566 0.528 0.489 0.452 0.414 0.376 0.338 0.300 0.263 0.225 0.188 0.147 0.104 0.060 0.017 0.004 0.011 0.018 0.025 0.032 0.039 0.047 0.055 0.063 0.071 0.073 0.075 0.076 0.078"/><feFuncB type="table" tableValues="0.235 0.241 0.246 0.252 0.257 0.263 0.268 0.279 0.293 0.307 0.321 0.335 0.349 0.364 0.382 0.404 0.426 0.449 0.472 0.495 0.518 0.537 0.555 0.574 0.593 0.612 0.631 0.656 0.694 0.731 0.775 0.831 0.886 0.929 0.973 0.937 0.902 0.910 0.918 0.929 0.941 0.902 0.863 0.826 0.816 0.845 0.875 0.801 0.659 0.515 0.371 0.255 0.157 0.059 0.020 0.014 0.009 0.003 0.000 0.000 0.000 0.000 0.000 0.000 0.000 0.000 0.000 0.008 0.022 0.036 0.050 0.064 0.078 0.098 0.118 0.137 0.157 0.164 0.171 0.177 0.184"/></feComponentTransfer></filter>
<filter id="nf10" x="604" y="120" width="194" height="412" filterUnits="userSpaceOnUse" color-interpolation-filters="sRGB"><feGaussianBlur in="SourceGraphic" stdDeviation="8" result="m"/><feTurbulence type="fractalNoise" baseFrequency="0.13 0.05" numOctaves="2" seed="71"/><feColorMatrix type="matrix" values="1 0 0 0 0 1 0 0 0 0 1 0 0 0 0 0 0 0 0 1"/><feComponentTransfer result="n2"><feFuncR type="table" tableValues="0.000 0.000 0.000 0.000 0.000 0.031 0.092 0.148 0.200 0.248 0.292 0.331 0.367 0.398 0.425 0.448 0.467 0.481 0.492 0.498 0.500 0.502 0.508 0.519 0.533 0.552 0.575 0.602 0.633 0.669 0.708 0.752 0.800 0.852 0.908 0.969 1.000 1.000 1.000 1.000 1.000"/><feFuncG type="table" tableValues="0.000 0.000 0.000 0.000 0.000 0.031 0.092 0.148 0.200 0.248 0.292 0.331 0.367 0.398 0.425 0.448 0.467 0.481 0.492 0.498 0.500 0.502 0.508 0.519 0.533 0.552 0.575 0.602 0.633 0.669 0.708 0.752 0.800 0.852 0.908 0.969 1.000 1.000 1.000 1.000 1.000"/><feFuncB type="table" tableValues="0.000 0.000 0.000 0.000 0.000 0.031 0.092 0.148 0.200 0.248 0.292 0.331 0.367 0.398 0.425 0.448 0.467 0.481 0.492 0.498 0.500 0.502 0.508 0.519 0.533 0.552 0.575 0.602 0.633 0.669 0.708 0.752 0.800 0.852 0.908 0.969 1.000 1.000 1.000 1.000 1.000"/></feComponentTransfer><feComposite in="n2" in2="m" operator="arithmetic" k1="1.8" k2="0" k3="-0.9" k4="0.5" result="c1"/><feTurbulence type="fractalNoise" baseFrequency="0.12 0.052" numOctaves="2" seed="74"/><feColorMatrix type="matrix" values="1 0 0 0 0 1 0 0 0 0 1 0 0 0 0 0 0 0 0 1" result="n1"/><feComposite in="c1" in2="n1" operator="arithmetic" k1="0" k2="1" k3="0.3" k4="-0.15"/><feColorMatrix type="matrix" values="1 0 0 0 0 1 0 0 0 0 1 0 0 0 0 0 0 0 0 1"/><feComponentTransfer><feFuncR type="table" tableValues="0.235 0.232 0.228 0.224 0.221 0.217 0.213 0.208 0.202 0.196 0.189 0.183 0.177 0.171 0.167 0.165 0.184 0.207 0.231 0.255 0.278 0.298 0.317 0.337 0.356 0.376 0.395 0.425 0.473 0.520 0.576 0.643 0.710 0.763 0.816 0.851 0.886 0.902 0.918 0.929 0.941 0.957 0.973 0.985 0.985 0.967 0.948 0.935 0.925 0.911 0.896 0.889 0.888 0.887 0.891 0.898 0.906 0.913 0.922 0.931 0.941 0.951 0.961 0.970 0.979 0.988 0.996 0.986 0.963 0.940 0.917 0.894 0.871 0.841 0.812 0.782 0.753 0.725 0.696 0.668 0.639"/><feFuncG type="table" tableValues="0.235 0.234 0.233 0.232 0.230 0.229 0.228 0.227 0.227 0.227 0.227 0.227 0.227 0.227 0.229 0.231 0.250 0.273 0.295 0.318 0.341 0.361 0.380 0.400 0.419 0.439 0.458 0.488 0.535 0.583 0.639 0.708 0.776 0.831 0.886 0.914 0.941 0.939 0.937 0.939 0.941 0.937 0.933 0.926 0.915 0.900 0.885 0.843 0.784 0.719 0.654 0.604 0.566 0.528 0.489 0.452 0.414 0.376 0.338 0.300 0.263 0.225 0.188 0.147 0.104 0.060 0.017 0.004 0.011 0.018 0.025 0.032 0.039 0.047 0.055 0.063 0.071 0.073 0.075 0.076 0.078"/><feFuncB type="table" tableValues="0.235 0.241 0.246 0.252 0.257 0.263 0.268 0.279 0.293 0.307 0.321 0.335 0.349 0.364 0.382 0.404 0.426 0.449 0.472 0.495 0.518 0.537 0.555 0.574 0.593 0.612 0.631 0.656 0.694 0.731 0.775 0.831 0.886 0.929 0.973 0.937 0.902 0.910 0.918 0.929 0.941 0.902 0.863 0.826 0.816 0.845 0.875 0.801 0.659 0.515 0.371 0.255 0.157 0.059 0.020 0.014 0.009 0.003 0.000 0.000 0.000 0.000 0.000 0.000 0.000 0.000 0.000 0.008 0.022 0.036 0.050 0.064 0.078 0.098 0.118 0.137 0.157 0.164 0.171 0.177 0.184"/></feComponentTransfer></filter>
<filter id="nf11" x="604" y="120" width="194" height="412" filterUnits="userSpaceOnUse" color-interpolation-filters="sRGB"><feGaussianBlur in="SourceGraphic" stdDeviation="8" result="m"/><feTurbulence type="fractalNoise" baseFrequency="0.13 0.05" numOctaves="2" seed="78"/><feColorMatrix type="matrix" values="1 0 0 0 0 1 0 0 0 0 1 0 0 0 0 0 0 0 0 1"/><feComponentTransfer result="n2"><feFuncR type="table" tableValues="0.000 0.000 0.000 0.000 0.000 0.031 0.092 0.148 0.200 0.248 0.292 0.331 0.367 0.398 0.425 0.448 0.467 0.481 0.492 0.498 0.500 0.502 0.508 0.519 0.533 0.552 0.575 0.602 0.633 0.669 0.708 0.752 0.800 0.852 0.908 0.969 1.000 1.000 1.000 1.000 1.000"/><feFuncG type="table" tableValues="0.000 0.000 0.000 0.000 0.000 0.031 0.092 0.148 0.200 0.248 0.292 0.331 0.367 0.398 0.425 0.448 0.467 0.481 0.492 0.498 0.500 0.502 0.508 0.519 0.533 0.552 0.575 0.602 0.633 0.669 0.708 0.752 0.800 0.852 0.908 0.969 1.000 1.000 1.000 1.000 1.000"/><feFuncB type="table" tableValues="0.000 0.000 0.000 0.000 0.000 0.031 0.092 0.148 0.200 0.248 0.292 0.331 0.367 0.398 0.425 0.448 0.467 0.481 0.492 0.498 0.500 0.502 0.508 0.519 0.533 0.552 0.575 0.602 0.633 0.669 0.708 0.752 0.800 0.852 0.908 0.969 1.000 1.000 1.000 1.000 1.000"/></feComponentTransfer><feComposite in="n2" in2="m" operator="arithmetic" k1="1.8" k2="0" k3="-0.9" k4="0.5" result="c1"/><feTurbulence type="fractalNoise" baseFrequency="0.12 0.052" numOctaves="2" seed="81"/><feColorMatrix type="matrix" values="1 0 0 0 0 1 0 0 0 0 1 0 0 0 0 0 0 0 0 1" result="n1"/><feComposite in="c1" in2="n1" operator="arithmetic" k1="0" k2="1" k3="0.3" k4="-0.15"/><feColorMatrix type="matrix" values="1 0 0 0 0 1 0 0 0 0 1 0 0 0 0 0 0 0 0 1"/><feComponentTransfer><feFuncR type="table" tableValues="0.235 0.232 0.228 0.224 0.221 0.217 0.213 0.208 0.202 0.196 0.189 0.183 0.177 0.171 0.167 0.165 0.184 0.207 0.231 0.255 0.278 0.298 0.317 0.337 0.356 0.376 0.395 0.425 0.473 0.520 0.576 0.643 0.710 0.763 0.816 0.851 0.886 0.902 0.918 0.929 0.941 0.957 0.973 0.985 0.985 0.967 0.948 0.935 0.925 0.911 0.896 0.889 0.888 0.887 0.891 0.898 0.906 0.913 0.922 0.931 0.941 0.951 0.961 0.970 0.979 0.988 0.996 0.986 0.963 0.940 0.917 0.894 0.871 0.841 0.812 0.782 0.753 0.725 0.696 0.668 0.639"/><feFuncG type="table" tableValues="0.235 0.234 0.233 0.232 0.230 0.229 0.228 0.227 0.227 0.227 0.227 0.227 0.227 0.227 0.229 0.231 0.250 0.273 0.295 0.318 0.341 0.361 0.380 0.400 0.419 0.439 0.458 0.488 0.535 0.583 0.639 0.708 0.776 0.831 0.886 0.914 0.941 0.939 0.937 0.939 0.941 0.937 0.933 0.926 0.915 0.900 0.885 0.843 0.784 0.719 0.654 0.604 0.566 0.528 0.489 0.452 0.414 0.376 0.338 0.300 0.263 0.225 0.188 0.147 0.104 0.060 0.017 0.004 0.011 0.018 0.025 0.032 0.039 0.047 0.055 0.063 0.071 0.073 0.075 0.076 0.078"/><feFuncB type="table" tableValues="0.235 0.241 0.246 0.252 0.257 0.263 0.268 0.279 0.293 0.307 0.321 0.335 0.349 0.364 0.382 0.404 0.426 0.449 0.472 0.495 0.518 0.537 0.555 0.574 0.593 0.612 0.631 0.656 0.694 0.731 0.775 0.831 0.886 0.929 0.973 0.937 0.902 0.910 0.918 0.929 0.941 0.902 0.863 0.826 0.816 0.845 0.875 0.801 0.659 0.515 0.371 0.255 0.157 0.059 0.020 0.014 0.009 0.003 0.000 0.000 0.000 0.000 0.000 0.000 0.000 0.000 0.000 0.008 0.022 0.036 0.050 0.064 0.078 0.098 0.118 0.137 0.157 0.164 0.171 0.177 0.184"/></feComponentTransfer></filter>
<filter id="nf12" x="604" y="120" width="194" height="412" filterUnits="userSpaceOnUse" color-interpolation-filters="sRGB"><feGaussianBlur in="SourceGraphic" stdDeviation="8" result="m"/><feTurbulence type="fractalNoise" baseFrequency="0.13 0.05" numOctaves="2" seed="85"/><feColorMatrix type="matrix" values="1 0 0 0 0 1 0 0 0 0 1 0 0 0 0 0 0 0 0 1"/><feComponentTransfer result="n2"><feFuncR type="table" tableValues="0.000 0.000 0.000 0.000 0.000 0.031 0.092 0.148 0.200 0.248 0.292 0.331 0.367 0.398 0.425 0.448 0.467 0.481 0.492 0.498 0.500 0.502 0.508 0.519 0.533 0.552 0.575 0.602 0.633 0.669 0.708 0.752 0.800 0.852 0.908 0.969 1.000 1.000 1.000 1.000 1.000"/><feFuncG type="table" tableValues="0.000 0.000 0.000 0.000 0.000 0.031 0.092 0.148 0.200 0.248 0.292 0.331 0.367 0.398 0.425 0.448 0.467 0.481 0.492 0.498 0.500 0.502 0.508 0.519 0.533 0.552 0.575 0.602 0.633 0.669 0.708 0.752 0.800 0.852 0.908 0.969 1.000 1.000 1.000 1.000 1.000"/><feFuncB type="table" tableValues="0.000 0.000 0.000 0.000 0.000 0.031 0.092 0.148 0.200 0.248 0.292 0.331 0.367 0.398 0.425 0.448 0.467 0.481 0.492 0.498 0.500 0.502 0.508 0.519 0.533 0.552 0.575 0.602 0.633 0.669 0.708 0.752 0.800 0.852 0.908 0.969 1.000 1.000 1.000 1.000 1.000"/></feComponentTransfer><feComposite in="n2" in2="m" operator="arithmetic" k1="1.8" k2="0" k3="-0.9" k4="0.5" result="c1"/><feTurbulence type="fractalNoise" baseFrequency="0.12 0.052" numOctaves="2" seed="88"/><feColorMatrix type="matrix" values="1 0 0 0 0 1 0 0 0 0 1 0 0 0 0 0 0 0 0 1" result="n1"/><feComposite in="c1" in2="n1" operator="arithmetic" k1="0" k2="1" k3="0.3" k4="-0.15"/><feColorMatrix type="matrix" values="1 0 0 0 0 1 0 0 0 0 1 0 0 0 0 0 0 0 0 1"/><feComponentTransfer><feFuncR type="table" tableValues="0.235 0.232 0.228 0.224 0.221 0.217 0.213 0.208 0.202 0.196 0.189 0.183 0.177 0.171 0.167 0.165 0.184 0.207 0.231 0.255 0.278 0.298 0.317 0.337 0.356 0.376 0.395 0.425 0.473 0.520 0.576 0.643 0.710 0.763 0.816 0.851 0.886 0.902 0.918 0.929 0.941 0.957 0.973 0.985 0.985 0.967 0.948 0.935 0.925 0.911 0.896 0.889 0.888 0.887 0.891 0.898 0.906 0.913 0.922 0.931 0.941 0.951 0.961 0.970 0.979 0.988 0.996 0.986 0.963 0.940 0.917 0.894 0.871 0.841 0.812 0.782 0.753 0.725 0.696 0.668 0.639"/><feFuncG type="table" tableValues="0.235 0.234 0.233 0.232 0.230 0.229 0.228 0.227 0.227 0.227 0.227 0.227 0.227 0.227 0.229 0.231 0.250 0.273 0.295 0.318 0.341 0.361 0.380 0.400 0.419 0.439 0.458 0.488 0.535 0.583 0.639 0.708 0.776 0.831 0.886 0.914 0.941 0.939 0.937 0.939 0.941 0.937 0.933 0.926 0.915 0.900 0.885 0.843 0.784 0.719 0.654 0.604 0.566 0.528 0.489 0.452 0.414 0.376 0.338 0.300 0.263 0.225 0.188 0.147 0.104 0.060 0.017 0.004 0.011 0.018 0.025 0.032 0.039 0.047 0.055 0.063 0.071 0.073 0.075 0.076 0.078"/><feFuncB type="table" tableValues="0.235 0.241 0.246 0.252 0.257 0.263 0.268 0.279 0.293 0.307 0.321 0.335 0.349 0.364 0.382 0.404 0.426 0.449 0.472 0.495 0.518 0.537 0.555 0.574 0.593 0.612 0.631 0.656 0.694 0.731 0.775 0.831 0.886 0.929 0.973 0.937 0.902 0.910 0.918 0.929 0.941 0.902 0.863 0.826 0.816 0.845 0.875 0.801 0.659 0.515 0.371 0.255 0.157 0.059 0.020 0.014 0.009 0.003 0.000 0.000 0.000 0.000 0.000 0.000 0.000 0.000 0.000 0.008 0.022 0.036 0.050 0.064 0.078 0.098 0.118 0.137 0.157 0.164 0.171 0.177 0.184"/></feComponentTransfer></filter>
<filter id="nf13" x="604" y="120" width="194" height="412" filterUnits="userSpaceOnUse" color-interpolation-filters="sRGB"><feGaussianBlur in="SourceGraphic" stdDeviation="8" result="m"/><feTurbulence type="fractalNoise" baseFrequency="0.13 0.05" numOctaves="2" seed="92"/><feColorMatrix type="matrix" values="1 0 0 0 0 1 0 0 0 0 1 0 0 0 0 0 0 0 0 1"/><feComponentTransfer result="n2"><feFuncR type="table" tableValues="0.000 0.000 0.000 0.000 0.000 0.031 0.092 0.148 0.200 0.248 0.292 0.331 0.367 0.398 0.425 0.448 0.467 0.481 0.492 0.498 0.500 0.502 0.508 0.519 0.533 0.552 0.575 0.602 0.633 0.669 0.708 0.752 0.800 0.852 0.908 0.969 1.000 1.000 1.000 1.000 1.000"/><feFuncG type="table" tableValues="0.000 0.000 0.000 0.000 0.000 0.031 0.092 0.148 0.200 0.248 0.292 0.331 0.367 0.398 0.425 0.448 0.467 0.481 0.492 0.498 0.500 0.502 0.508 0.519 0.533 0.552 0.575 0.602 0.633 0.669 0.708 0.752 0.800 0.852 0.908 0.969 1.000 1.000 1.000 1.000 1.000"/><feFuncB type="table" tableValues="0.000 0.000 0.000 0.000 0.000 0.031 0.092 0.148 0.200 0.248 0.292 0.331 0.367 0.398 0.425 0.448 0.467 0.481 0.492 0.498 0.500 0.502 0.508 0.519 0.533 0.552 0.575 0.602 0.633 0.669 0.708 0.752 0.800 0.852 0.908 0.969 1.000 1.000 1.000 1.000 1.000"/></feComponentTransfer><feComposite in="n2" in2="m" operator="arithmetic" k1="1.8" k2="0" k3="-0.9" k4="0.5" result="c1"/><feTurbulence type="fractalNoise" baseFrequency="0.12 0.052" numOctaves="2" seed="95"/><feColorMatrix type="matrix" values="1 0 0 0 0 1 0 0 0 0 1 0 0 0 0 0 0 0 0 1" result="n1"/><feComposite in="c1" in2="n1" operator="arithmetic" k1="0" k2="1" k3="0.3" k4="-0.15"/><feColorMatrix type="matrix" values="1 0 0 0 0 1 0 0 0 0 1 0 0 0 0 0 0 0 0 1"/><feComponentTransfer><feFuncR type="table" tableValues="0.235 0.232 0.228 0.224 0.221 0.217 0.213 0.208 0.202 0.196 0.189 0.183 0.177 0.171 0.167 0.165 0.184 0.207 0.231 0.255 0.278 0.298 0.317 0.337 0.356 0.376 0.395 0.425 0.473 0.520 0.576 0.643 0.710 0.763 0.816 0.851 0.886 0.902 0.918 0.929 0.941 0.957 0.973 0.985 0.985 0.967 0.948 0.935 0.925 0.911 0.896 0.889 0.888 0.887 0.891 0.898 0.906 0.913 0.922 0.931 0.941 0.951 0.961 0.970 0.979 0.988 0.996 0.986 0.963 0.940 0.917 0.894 0.871 0.841 0.812 0.782 0.753 0.725 0.696 0.668 0.639"/><feFuncG type="table" tableValues="0.235 0.234 0.233 0.232 0.230 0.229 0.228 0.227 0.227 0.227 0.227 0.227 0.227 0.227 0.229 0.231 0.250 0.273 0.295 0.318 0.341 0.361 0.380 0.400 0.419 0.439 0.458 0.488 0.535 0.583 0.639 0.708 0.776 0.831 0.886 0.914 0.941 0.939 0.937 0.939 0.941 0.937 0.933 0.926 0.915 0.900 0.885 0.843 0.784 0.719 0.654 0.604 0.566 0.528 0.489 0.452 0.414 0.376 0.338 0.300 0.263 0.225 0.188 0.147 0.104 0.060 0.017 0.004 0.011 0.018 0.025 0.032 0.039 0.047 0.055 0.063 0.071 0.073 0.075 0.076 0.078"/><feFuncB type="table" tableValues="0.235 0.241 0.246 0.252 0.257 0.263 0.268 0.279 0.293 0.307 0.321 0.335 0.349 0.364 0.382 0.404 0.426 0.449 0.472 0.495 0.518 0.537 0.555 0.574 0.593 0.612 0.631 0.656 0.694 0.731 0.775 0.831 0.886 0.929 0.973 0.937 0.902 0.910 0.918 0.929 0.941 0.902 0.863 0.826 0.816 0.845 0.875 0.801 0.659 0.515 0.371 0.255 0.157 0.059 0.020 0.014 0.009 0.003 0.000 0.000 0.000 0.000 0.000 0.000 0.000 0.000 0.000 0.008 0.022 0.036 0.050 0.064 0.078 0.098 0.118 0.137 0.157 0.164 0.171 0.177 0.184"/></feComponentTransfer></filter>
<filter id="nf14" x="604" y="120" width="194" height="412" filterUnits="userSpaceOnUse" color-interpolation-filters="sRGB"><feGaussianBlur in="SourceGraphic" stdDeviation="8" result="m"/><feTurbulence type="fractalNoise" baseFrequency="0.13 0.05" numOctaves="2" seed="99"/><feColorMatrix type="matrix" values="1 0 0 0 0 1 0 0 0 0 1 0 0 0 0 0 0 0 0 1"/><feComponentTransfer result="n2"><feFuncR type="table" tableValues="0.000 0.000 0.000 0.000 0.000 0.031 0.092 0.148 0.200 0.248 0.292 0.331 0.367 0.398 0.425 0.448 0.467 0.481 0.492 0.498 0.500 0.502 0.508 0.519 0.533 0.552 0.575 0.602 0.633 0.669 0.708 0.752 0.800 0.852 0.908 0.969 1.000 1.000 1.000 1.000 1.000"/><feFuncG type="table" tableValues="0.000 0.000 0.000 0.000 0.000 0.031 0.092 0.148 0.200 0.248 0.292 0.331 0.367 0.398 0.425 0.448 0.467 0.481 0.492 0.498 0.500 0.502 0.508 0.519 0.533 0.552 0.575 0.602 0.633 0.669 0.708 0.752 0.800 0.852 0.908 0.969 1.000 1.000 1.000 1.000 1.000"/><feFuncB type="table" tableValues="0.000 0.000 0.000 0.000 0.000 0.031 0.092 0.148 0.200 0.248 0.292 0.331 0.367 0.398 0.425 0.448 0.467 0.481 0.492 0.498 0.500 0.502 0.508 0.519 0.533 0.552 0.575 0.602 0.633 0.669 0.708 0.752 0.800 0.852 0.908 0.969 1.000 1.000 1.000 1.000 1.000"/></feComponentTransfer><feComposite in="n2" in2="m" operator="arithmetic" k1="1.8" k2="0" k3="-0.9" k4="0.5" result="c1"/><feTurbulence type="fractalNoise" baseFrequency="0.12 0.052" numOctaves="2" seed="102"/><feColorMatrix type="matrix" values="1 0 0 0 0 1 0 0 0 0 1 0 0 0 0 0 0 0 0 1" result="n1"/><feComposite in="c1" in2="n1" operator="arithmetic" k1="0" k2="1" k3="0.3" k4="-0.15"/><feColorMatrix type="matrix" values="1 0 0 0 0 1 0 0 0 0 1 0 0 0 0 0 0 0 0 1"/><feComponentTransfer><feFuncR type="table" tableValues="0.235 0.232 0.228 0.224 0.221 0.217 0.213 0.208 0.202 0.196 0.189 0.183 0.177 0.171 0.167 0.165 0.184 0.207 0.231 0.255 0.278 0.298 0.317 0.337 0.356 0.376 0.395 0.425 0.473 0.520 0.576 0.643 0.710 0.763 0.816 0.851 0.886 0.902 0.918 0.929 0.941 0.957 0.973 0.985 0.985 0.967 0.948 0.935 0.925 0.911 0.896 0.889 0.888 0.887 0.891 0.898 0.906 0.913 0.922 0.931 0.941 0.951 0.961 0.970 0.979 0.988 0.996 0.986 0.963 0.940 0.917 0.894 0.871 0.841 0.812 0.782 0.753 0.725 0.696 0.668 0.639"/><feFuncG type="table" tableValues="0.235 0.234 0.233 0.232 0.230 0.229 0.228 0.227 0.227 0.227 0.227 0.227 0.227 0.227 0.229 0.231 0.250 0.273 0.295 0.318 0.341 0.361 0.380 0.400 0.419 0.439 0.458 0.488 0.535 0.583 0.639 0.708 0.776 0.831 0.886 0.914 0.941 0.939 0.937 0.939 0.941 0.937 0.933 0.926 0.915 0.900 0.885 0.843 0.784 0.719 0.654 0.604 0.566 0.528 0.489 0.452 0.414 0.376 0.338 0.300 0.263 0.225 0.188 0.147 0.104 0.060 0.017 0.004 0.011 0.018 0.025 0.032 0.039 0.047 0.055 0.063 0.071 0.073 0.075 0.076 0.078"/><feFuncB type="table" tableValues="0.235 0.241 0.246 0.252 0.257 0.263 0.268 0.279 0.293 0.307 0.321 0.335 0.349 0.364 0.382 0.404 0.426 0.449 0.472 0.495 0.518 0.537 0.555 0.574 0.593 0.612 0.631 0.656 0.694 0.731 0.775 0.831 0.886 0.929 0.973 0.937 0.902 0.910 0.918 0.929 0.941 0.902 0.863 0.826 0.816 0.845 0.875 0.801 0.659 0.515 0.371 0.255 0.157 0.059 0.020 0.014 0.009 0.003 0.000 0.000 0.000 0.000 0.000 0.000 0.000 0.000 0.000 0.008 0.022 0.036 0.050 0.064 0.078 0.098 0.118 0.137 0.157 0.164 0.171 0.177 0.184"/></feComponentTransfer></filter>
<filter id="nf15" x="604" y="120" width="194" height="412" filterUnits="userSpaceOnUse" color-interpolation-filters="sRGB"><feGaussianBlur in="SourceGraphic" stdDeviation="8" result="m"/><feTurbulence type="fractalNoise" baseFrequency="0.13 0.05" numOctaves="2" seed="106"/><feColorMatrix type="matrix" values="1 0 0 0 0 1 0 0 0 0 1 0 0 0 0 0 0 0 0 1"/><feComponentTransfer result="n2"><feFuncR type="table" tableValues="0.000 0.000 0.000 0.000 0.000 0.031 0.092 0.148 0.200 0.248 0.292 0.331 0.367 0.398 0.425 0.448 0.467 0.481 0.492 0.498 0.500 0.502 0.508 0.519 0.533 0.552 0.575 0.602 0.633 0.669 0.708 0.752 0.800 0.852 0.908 0.969 1.000 1.000 1.000 1.000 1.000"/><feFuncG type="table" tableValues="0.000 0.000 0.000 0.000 0.000 0.031 0.092 0.148 0.200 0.248 0.292 0.331 0.367 0.398 0.425 0.448 0.467 0.481 0.492 0.498 0.500 0.502 0.508 0.519 0.533 0.552 0.575 0.602 0.633 0.669 0.708 0.752 0.800 0.852 0.908 0.969 1.000 1.000 1.000 1.000 1.000"/><feFuncB type="table" tableValues="0.000 0.000 0.000 0.000 0.000 0.031 0.092 0.148 0.200 0.248 0.292 0.331 0.367 0.398 0.425 0.448 0.467 0.481 0.492 0.498 0.500 0.502 0.508 0.519 0.533 0.552 0.575 0.602 0.633 0.669 0.708 0.752 0.800 0.852 0.908 0.969 1.000 1.000 1.000 1.000 1.000"/></feComponentTransfer><feComposite in="n2" in2="m" operator="arithmetic" k1="1.8" k2="0" k3="-0.9" k4="0.5" result="c1"/><feTurbulence type="fractalNoise" baseFrequency="0.12 0.052" numOctaves="2" seed="109"/><feColorMatrix type="matrix" values="1 0 0 0 0 1 0 0 0 0 1 0 0 0 0 0 0 0 0 1" result="n1"/><feComposite in="c1" in2="n1" operator="arithmetic" k1="0" k2="1" k3="0.3" k4="-0.15"/><feColorMatrix type="matrix" values="1 0 0 0 0 1 0 0 0 0 1 0 0 0 0 0 0 0 0 1"/><feComponentTransfer><feFuncR type="table" tableValues="0.235 0.232 0.228 0.224 0.221 0.217 0.213 0.208 0.202 0.196 0.189 0.183 0.177 0.171 0.167 0.165 0.184 0.207 0.231 0.255 0.278 0.298 0.317 0.337 0.356 0.376 0.395 0.425 0.473 0.520 0.576 0.643 0.710 0.763 0.816 0.851 0.886 0.902 0.918 0.929 0.941 0.957 0.973 0.985 0.985 0.967 0.948 0.935 0.925 0.911 0.896 0.889 0.888 0.887 0.891 0.898 0.906 0.913 0.922 0.931 0.941 0.951 0.961 0.970 0.979 0.988 0.996 0.986 0.963 0.940 0.917 0.894 0.871 0.841 0.812 0.782 0.753 0.725 0.696 0.668 0.639"/><feFuncG type="table" tableValues="0.235 0.234 0.233 0.232 0.230 0.229 0.228 0.227 0.227 0.227 0.227 0.227 0.227 0.227 0.229 0.231 0.250 0.273 0.295 0.318 0.341 0.361 0.380 0.400 0.419 0.439 0.458 0.488 0.535 0.583 0.639 0.708 0.776 0.831 0.886 0.914 0.941 0.939 0.937 0.939 0.941 0.937 0.933 0.926 0.915 0.900 0.885 0.843 0.784 0.719 0.654 0.604 0.566 0.528 0.489 0.452 0.414 0.376 0.338 0.300 0.263 0.225 0.188 0.147 0.104 0.060 0.017 0.004 0.011 0.018 0.025 0.032 0.039 0.047 0.055 0.063 0.071 0.073 0.075 0.076 0.078"/><feFuncB type="table" tableValues="0.235 0.241 0.246 0.252 0.257 0.263 0.268 0.279 0.293 0.307 0.321 0.335 0.349 0.364 0.382 0.404 0.426 0.449 0.472 0.495 0.518 0.537 0.555 0.574 0.593 0.612 0.631 0.656 0.694 0.731 0.775 0.831 0.886 0.929 0.973 0.937 0.902 0.910 0.918 0.929 0.941 0.902 0.863 0.826 0.816 0.845 0.875 0.801 0.659 0.515 0.371 0.255 0.157 0.059 0.020 0.014 0.009 0.003 0.000 0.000 0.000 0.000 0.000 0.000 0.000 0.000 0.000 0.008 0.022 0.036 0.050 0.064 0.078 0.098 0.118 0.137 0.157 0.164 0.171 0.177 0.184"/></feComponentTransfer></filter>
<filter id="nf16" x="604" y="120" width="194" height="412" filterUnits="userSpaceOnUse" color-interpolation-filters="sRGB"><feGaussianBlur in="SourceGraphic" stdDeviation="8" result="m"/><feTurbulence type="fractalNoise" baseFrequency="0.13 0.05" numOctaves="2" seed="113"/><feColorMatrix type="matrix" values="1 0 0 0 0 1 0 0 0 0 1 0 0 0 0 0 0 0 0 1"/><feComponentTransfer result="n2"><feFuncR type="table" tableValues="0.000 0.000 0.000 0.000 0.000 0.031 0.092 0.148 0.200 0.248 0.292 0.331 0.367 0.398 0.425 0.448 0.467 0.481 0.492 0.498 0.500 0.502 0.508 0.519 0.533 0.552 0.575 0.602 0.633 0.669 0.708 0.752 0.800 0.852 0.908 0.969 1.000 1.000 1.000 1.000 1.000"/><feFuncG type="table" tableValues="0.000 0.000 0.000 0.000 0.000 0.031 0.092 0.148 0.200 0.248 0.292 0.331 0.367 0.398 0.425 0.448 0.467 0.481 0.492 0.498 0.500 0.502 0.508 0.519 0.533 0.552 0.575 0.602 0.633 0.669 0.708 0.752 0.800 0.852 0.908 0.969 1.000 1.000 1.000 1.000 1.000"/><feFuncB type="table" tableValues="0.000 0.000 0.000 0.000 0.000 0.031 0.092 0.148 0.200 0.248 0.292 0.331 0.367 0.398 0.425 0.448 0.467 0.481 0.492 0.498 0.500 0.502 0.508 0.519 0.533 0.552 0.575 0.602 0.633 0.669 0.708 0.752 0.800 0.852 0.908 0.969 1.000 1.000 1.000 1.000 1.000"/></feComponentTransfer><feComposite in="n2" in2="m" operator="arithmetic" k1="1.8" k2="0" k3="-0.9" k4="0.5" result="c1"/><feTurbulence type="fractalNoise" baseFrequency="0.12 0.052" numOctaves="2" seed="116"/><feColorMatrix type="matrix" values="1 0 0 0 0 1 0 0 0 0 1 0 0 0 0 0 0 0 0 1" result="n1"/><feComposite in="c1" in2="n1" operator="arithmetic" k1="0" k2="1" k3="0.3" k4="-0.15"/><feColorMatrix type="matrix" values="1 0 0 0 0 1 0 0 0 0 1 0 0 0 0 0 0 0 0 1"/><feComponentTransfer><feFuncR type="table" tableValues="0.235 0.232 0.228 0.224 0.221 0.217 0.213 0.208 0.202 0.196 0.189 0.183 0.177 0.171 0.167 0.165 0.184 0.207 0.231 0.255 0.278 0.298 0.317 0.337 0.356 0.376 0.395 0.425 0.473 0.520 0.576 0.643 0.710 0.763 0.816 0.851 0.886 0.902 0.918 0.929 0.941 0.957 0.973 0.985 0.985 0.967 0.948 0.935 0.925 0.911 0.896 0.889 0.888 0.887 0.891 0.898 0.906 0.913 0.922 0.931 0.941 0.951 0.961 0.970 0.979 0.988 0.996 0.986 0.963 0.940 0.917 0.894 0.871 0.841 0.812 0.782 0.753 0.725 0.696 0.668 0.639"/><feFuncG type="table" tableValues="0.235 0.234 0.233 0.232 0.230 0.229 0.228 0.227 0.227 0.227 0.227 0.227 0.227 0.227 0.229 0.231 0.250 0.273 0.295 0.318 0.341 0.361 0.380 0.400 0.419 0.439 0.458 0.488 0.535 0.583 0.639 0.708 0.776 0.831 0.886 0.914 0.941 0.939 0.937 0.939 0.941 0.937 0.933 0.926 0.915 0.900 0.885 0.843 0.784 0.719 0.654 0.604 0.566 0.528 0.489 0.452 0.414 0.376 0.338 0.300 0.263 0.225 0.188 0.147 0.104 0.060 0.017 0.004 0.011 0.018 0.025 0.032 0.039 0.047 0.055 0.063 0.071 0.073 0.075 0.076 0.078"/><feFuncB type="table" tableValues="0.235 0.241 0.246 0.252 0.257 0.263 0.268 0.279 0.293 0.307 0.321 0.335 0.349 0.364 0.382 0.404 0.426 0.449 0.472 0.495 0.518 0.537 0.555 0.574 0.593 0.612 0.631 0.656 0.694 0.731 0.775 0.831 0.886 0.929 0.973 0.937 0.902 0.910 0.918 0.929 0.941 0.902 0.863 0.826 0.816 0.845 0.875 0.801 0.659 0.515 0.371 0.255 0.157 0.059 0.020 0.014 0.009 0.003 0.000 0.000 0.000 0.000 0.000 0.000 0.000 0.000 0.000 0.008 0.022 0.036 0.050 0.064 0.078 0.098 0.118 0.137 0.157 0.164 0.171 0.177 0.184"/></feComponentTransfer></filter>
<filter id="nf17" x="604" y="120" width="194" height="412" filterUnits="userSpaceOnUse" color-interpolation-filters="sRGB"><feGaussianBlur in="SourceGraphic" stdDeviation="8" result="m"/><feTurbulence type="fractalNoise" baseFrequency="0.13 0.05" numOctaves="2" seed="120"/><feColorMatrix type="matrix" values="1 0 0 0 0 1 0 0 0 0 1 0 0 0 0 0 0 0 0 1"/><feComponentTransfer result="n2"><feFuncR type="table" tableValues="0.000 0.000 0.000 0.000 0.000 0.031 0.092 0.148 0.200 0.248 0.292 0.331 0.367 0.398 0.425 0.448 0.467 0.481 0.492 0.498 0.500 0.502 0.508 0.519 0.533 0.552 0.575 0.602 0.633 0.669 0.708 0.752 0.800 0.852 0.908 0.969 1.000 1.000 1.000 1.000 1.000"/><feFuncG type="table" tableValues="0.000 0.000 0.000 0.000 0.000 0.031 0.092 0.148 0.200 0.248 0.292 0.331 0.367 0.398 0.425 0.448 0.467 0.481 0.492 0.498 0.500 0.502 0.508 0.519 0.533 0.552 0.575 0.602 0.633 0.669 0.708 0.752 0.800 0.852 0.908 0.969 1.000 1.000 1.000 1.000 1.000"/><feFuncB type="table" tableValues="0.000 0.000 0.000 0.000 0.000 0.031 0.092 0.148 0.200 0.248 0.292 0.331 0.367 0.398 0.425 0.448 0.467 0.481 0.492 0.498 0.500 0.502 0.508 0.519 0.533 0.552 0.575 0.602 0.633 0.669 0.708 0.752 0.800 0.852 0.908 0.969 1.000 1.000 1.000 1.000 1.000"/></feComponentTransfer><feComposite in="n2" in2="m" operator="arithmetic" k1="1.8" k2="0" k3="-0.9" k4="0.5" result="c1"/><feTurbulence type="fractalNoise" baseFrequency="0.12 0.052" numOctaves="2" seed="123"/><feColorMatrix type="matrix" values="1 0 0 0 0 1 0 0 0 0 1 0 0 0 0 0 0 0 0 1" result="n1"/><feComposite in="c1" in2="n1" operator="arithmetic" k1="0" k2="1" k3="0.3" k4="-0.15"/><feColorMatrix type="matrix" values="1 0 0 0 0 1 0 0 0 0 1 0 0 0 0 0 0 0 0 1"/><feComponentTransfer><feFuncR type="table" tableValues="0.235 0.232 0.228 0.224 0.221 0.217 0.213 0.208 0.202 0.196 0.189 0.183 0.177 0.171 0.167 0.165 0.184 0.207 0.231 0.255 0.278 0.298 0.317 0.337 0.356 0.376 0.395 0.425 0.473 0.520 0.576 0.643 0.710 0.763 0.816 0.851 0.886 0.902 0.918 0.929 0.941 0.957 0.973 0.985 0.985 0.967 0.948 0.935 0.925 0.911 0.896 0.889 0.888 0.887 0.891 0.898 0.906 0.913 0.922 0.931 0.941 0.951 0.961 0.970 0.979 0.988 0.996 0.986 0.963 0.940 0.917 0.894 0.871 0.841 0.812 0.782 0.753 0.725 0.696 0.668 0.639"/><feFuncG type="table" tableValues="0.235 0.234 0.233 0.232 0.230 0.229 0.228 0.227 0.227 0.227 0.227 0.227 0.227 0.227 0.229 0.231 0.250 0.273 0.295 0.318 0.341 0.361 0.380 0.400 0.419 0.439 0.458 0.488 0.535 0.583 0.639 0.708 0.776 0.831 0.886 0.914 0.941 0.939 0.937 0.939 0.941 0.937 0.933 0.926 0.915 0.900 0.885 0.843 0.784 0.719 0.654 0.604 0.566 0.528 0.489 0.452 0.414 0.376 0.338 0.300 0.263 0.225 0.188 0.147 0.104 0.060 0.017 0.004 0.011 0.018 0.025 0.032 0.039 0.047 0.055 0.063 0.071 0.073 0.075 0.076 0.078"/><feFuncB type="table" tableValues="0.235 0.241 0.246 0.252 0.257 0.263 0.268 0.279 0.293 0.307 0.321 0.335 0.349 0.364 0.382 0.404 0.426 0.449 0.472 0.495 0.518 0.537 0.555 0.574 0.593 0.612 0.631 0.656 0.694 0.731 0.775 0.831 0.886 0.929 0.973 0.937 0.902 0.910 0.918 0.929 0.941 0.902 0.863 0.826 0.816 0.845 0.875 0.801 0.659 0.515 0.371 0.255 0.157 0.059 0.020 0.014 0.009 0.003 0.000 0.000 0.000 0.000 0.000 0.000 0.000 0.000 0.000 0.008 0.022 0.036 0.050 0.064 0.078 0.098 0.118 0.137 0.157 0.164 0.171 0.177 0.184"/></feComponentTransfer></filter>
</defs>
<g transform="rotate(0.0 701.4 502.2)" clip-path="url(#wedge)"><g filter="url(#nf0)"><rect x="554" y="70" width="294" height="512" fill="#000"/><use href="#amp" transform="rotate(-0.0 701.4 502.2)"/></g></g>
<g transform="rotate(20.0 701.4 502.2)" clip-path="url(#wedge)"><g filter="url(#nf1)"><rect x="554" y="70" width="294" height="512" fill="#000"/><use href="#amp" transform="rotate(-20.0 701.4 502.2)"/></g></g>
<g transform="rotate(40.0 701.4 502.2)" clip-path="url(#wedge)"><g filter="url(#nf2)"><rect x="554" y="70" width="294" height="512" fill="#000"/><use href="#amp" transform="rotate(-40.0 701.4 502.2)"/></g></g>
<g transform="rotate(60.0 701.4 502.2)" clip-path="url(#wedge)"><g filter="url(#nf3)"><rect x="554" y="70" width="294" height="512" fill="#000"/><use href="#amp" transform="rotate(-60.0 701.4 502.2)"/></g></g>
<g transform="rotate(80.0 701.4 502.2)" clip-path="url(#wedge)"><g filter="url(#nf4)"><rect x="554" y="70" width="294" height="512" fill="#000"/><use href="#amp" transform="rotate(-80.0 701.4 502.2)"/></g></g>
<g transform="rotate(100.0 701.4 502.2)" clip-path="url(#wedge)"><g filter="url(#nf5)"><rect x="554" y="70" width="294" height="512" fill="#000"/><use href="#amp" transform="rotate(-100.0 701.4 502.2)"/></g></g>
<g transform="rotate(120.0 701.4 502.2)" clip-path="url(#wedge)"><g filter="url(#nf6)"><rect x="554" y="70" width="294" height="512" fill="#000"/><use href="#amp" transform="rotate(-120.0 701.4 502.2)"/></g></g>
<g transform="rotate(140.0 701.4 502.2)" clip-path="url(#wedge)"><g filter="url(#nf7)"><rect x="554" y="70" width="294" height="512" fill="#000"/><use href="#amp" transform="rotate(-140.0 701.4 502.2)"/></g></g>
<g transform="rotate(160.0 701.4 502.2)" clip-path="url(#wedge)"><g filter="url(#nf8)"><rect x="554" y="70" width="294" height="512" fill="#000"/><use href="#amp" transform="rotate(-160.0 701.4 502.2)"/></g></g>
<g transform="rotate(180.0 701.4 502.2)" clip-path="url(#wedge)"><g filter="url(#nf9)"><rect x="554" y="70" width="294" height="512" fill="#000"/><use href="#amp" transform="rotate(-180.0 701.4 502.2)"/></g></g>
<g transform="rotate(200.0 701.4 502.2)" clip-path="url(#wedge)"><g filter="url(#nf10)"><rect x="554" y="70" width="294" height="512" fill="#000"/><use href="#amp" transform="rotate(-200.0 701.4 502.2)"/></g></g>
<g transform="rotate(220.0 701.4 502.2)" clip-path="url(#wedge)"><g filter="url(#nf11)"><rect x="554" y="70" width="294" height="512" fill="#000"/><use href="#amp" transform="rotate(-220.0 701.4 502.2)"/></g></g>
<g transform="rotate(240.0 701.4 502.2)" clip-path="url(#wedge)"><g filter="url(#nf12)"><rect x="554" y="70" width="294" height="512" fill="#000"/><use href="#amp" transform="rotate(-240.0 701.4 502.2)"/></g></g>
<g transform="rotate(260.0 701.4 502.2)" clip-path="url(#wedge)"><g filter="url(#nf13)"><rect x="554" y="70" width="294" height="512" fill="#000"/><use href="#amp" transform="rotate(-260.0 701.4 502.2)"/></g></g>
<g transform="rotate(280.0 701.4 502.2)" clip-path="url(#wedge)"><g filter="url(#nf14)"><rect x="554" y="70" width="294" height="512" fill="#000"/><use href="#amp" transform="rotate(-280.0 701.4 502.2)"/></g></g>
<g transform="rotate(300.0 701.4 502.2)" clip-path="url(#wedge)"><g filter="url(#nf15)"><rect x="554" y="70" width="294" height="512" fill="#000"/><use href="#amp" transform="rotate(-300.0 701.4 502.2)"/></g></g>
<g transform="rotate(320.0 701.4 502.2)" clip-path="url(#wedge)"><g filter="url(#nf16)"><rect x="554" y="70" width="294" height="512" fill="#000"/><use href="#amp" transform="rotate(-320.0 701.4 502.2)"/></g></g>
<g transform="rotate(340.0 701.4 502.2)" clip-path="url(#wedge)"><g filter="url(#nf17)"><rect x="554" y="70" width="294" height="512" fill="#000"/><use href="#amp" transform="rotate(-340.0 701.4 502.2)"/></g></g>
<defs><radialGradient id="veil" gradientUnits="userSpaceOnUse" cx="701.4" cy="502.2" r="205"><stop offset="0" stop-color="#eef1ef" stop-opacity="0.7"/><stop offset="0.72" stop-color="#eef1ef" stop-opacity="0.62"/><stop offset="1" stop-color="#eef1ef" stop-opacity="0"/></radialGradient><filter id="sb2" x="-5%" y="-5%" width="110%" height="110%"><feGaussianBlur stdDeviation="0.9"/></filter></defs>
<circle cx="701.4" cy="502.2" r="205" fill="url(#veil)"/>
<path d="M600 470 L585 430 L600 395 L640 375 L690 372 L700 400 L680 430 L660 460 L630 478Z" fill="#eff1f0" fill-opacity="0.75" filter="url(#sb)"/>
<g filter="url(#sb2)" fill="none" stroke-linecap="round">
<path d="M762.0 698.7L767.3 706.1M682.3 602.7L682.6 608.4M800.3 340.1L801.4 333.3M688.6 601.1L688.6 609.9M849.6 386.6L851.2 381.2M611.8 325.0L610.3 317.4M788.0 317.9L790.4 305.5M723.8 573.8L725.4 577.0M715.3 702.7L717.1 715.3M842.3 384.9L843.9 379.8M878.0 561.4L888.6 561.3M832.6 344.9L838.5 338.9M547.0 625.3L540.0 628.2M878.1 602.7L887.9 608.0M832.4 644.5L838.1 646.6M649.5 585.2L645.8 587.3M714.3 696.5L710.9 707.2M706.7 585.7L707.9 589.7M848.2 393.5L859.4 390.1M692.3 691.5L687.6 703.6M539.3 395.7L531.8 395.6M496.4 477.5L486.7 477.2M752.7 686.3L755.8 690.6M656.8 576.5L651.6 582.7M898.2 461.4L905.3 458.8M786.1 681.4L786.1 686.4M525.5 420.2L520.2 413.9M860.0 397.9L866.5 391.9M499.6 554.6L488.3 555.0" stroke="#b5c6e2" stroke-width="1.2" stroke-opacity="0.7"/>
<path d="M687.3 690.8L684.4 695.6M807.3 334.7L810.9 323.4M513.3 546.9L506.7 546.4M522.1 400.8L517.0 400.4M872.0 568.3L876.4 569.5M539.8 623.9L536.1 631.3M778.3 313.2L778.3 302.9M908.1 485.9L912.6 484.4M700.5 706.3L704.5 717.8" stroke="#c6d6ee" stroke-width="1.9" stroke-opacity="0.7"/>
<path d="M506.1 574.7L494.9 582.2" stroke="#b5c6e2" stroke-width="2.0" stroke-opacity="0.7"/>
<path d="M753.4 369.9L756.8 366.9M579.5 433.1L576.3 429.9M550.7 460.7L543.0 458.7M657.5 642.5L653.9 651.4M811.4 407.2L817.1 399.4M658.2 633.7L655.1 637.3M701.6 652.8L699.9 659.7M851.5 456.4L858.5 456.9M562.2 482.9L556.9 483.7M649.5 625.5L647.5 635.2M803.3 602.2L810.8 610.4" stroke="#fde3c0" stroke-width="1.7" stroke-opacity="0.7"/>
<path d="M683.4 651.0L679.1 659.5M614.2 365.5L612.7 356.9M695.6 581.1L693.9 589.8M835.9 458.7L841.5 454.5M544.7 537.2L532.6 536.9M792.0 633.2L797.8 638.8M820.0 602.7L822.7 606.8M622.4 626.9L615.5 632.7M694.7 363.8L693.6 359.9M564.8 519.2L557.8 522.9M774.8 639.5L780.4 648.6M824.7 427.1L833.2 419.1" stroke="#d0e2f8" stroke-width="1.4" stroke-opacity="0.7"/>
<path d="M575.5 536.4L570.5 540.1" stroke="#6878a4" stroke-width="1.3" stroke-opacity="0.7"/>
<path d="M806.8 529.9L815.0 531.4M772.6 390.2L777.1 387.6M669.3 379.0L664.2 370.0M697.7 610.9L698.7 619.2M629.6 610.9L628.3 617.3M755.7 380.7L759.0 375.2M566.2 502.4L555.5 502.2M793.4 416.3L797.2 409.2M599.9 452.2L594.4 452.1M585.0 567.0L575.6 572.8" stroke="#c6d6ee" stroke-width="1.3" stroke-opacity="0.7"/>
<path d="M539.0 545.1L533.9 547.9M865.2 481.7L874.0 479.7M793.1 370.4L797.8 365.3M567.1 430.0L557.5 427.7M724.3 328.8L726.5 319.4M849.7 531.9L857.6 534.4M830.7 565.4L838.7 567.6M546.0 515.1L539.1 512.8M526.9 491.2L516.2 487.5M712.2 349.3L714.4 337.7M745.4 352.3L749.5 347.6M848.2 522.8L857.9 523.4M622.7 654.6L619.1 664.2" stroke="#d0e2f8" stroke-width="1.1" stroke-opacity="0.7"/>
<path d="M720.8 299.3L721.0 293.7M727.2 294.1L725.8 284.0M537.9 420.4L527.4 417.6M679.3 304.3L675.8 293.2M887.7 584.0L892.1 589.7M500.8 487.0L492.0 489.3M891.4 566.2L904.5 568.4M700.0 605.7L701.0 613.9M526.7 566.7L518.6 570.4M888.4 551.2L896.6 556.5M880.7 420.2L891.3 420.0M692.3 306.4L696.1 296.2M671.0 576.0L669.0 585.4M567.0 622.8L558.5 631.4M818.0 352.5L819.8 345.9M875.9 569.0L885.1 574.7M517.3 532.6L504.8 531.4M825.5 345.6L830.2 333.3M900.1 444.1L909.8 443.6M635.4 670.9L635.8 676.2M603.1 679.8L595.7 688.4" stroke="#c6d6ee" stroke-width="1.2" stroke-opacity="0.7"/>
<path d="M709.9 604.1L709.8 611.0M586.0 642.1L579.6 644.3M732.4 703.7L729.4 713.5M533.8 574.6L522.6 576.6M871.4 397.8L879.9 390.8M533.1 611.3L524.7 612.1M517.7 424.8L514.6 420.6M897.9 435.4L909.6 431.2M683.8 577.1L682.7 586.0M528.2 551.4L522.0 555.5M717.7 683.0L717.4 693.4M873.5 604.4L885.1 608.2M598.4 339.1L589.4 330.2" stroke="#fbdcb4" stroke-width="1.2" stroke-opacity="0.7"/>
<path d="M791.9 401.4L798.0 399.1M859.1 460.1L868.1 456.4M853.0 486.4L862.7 485.8M542.2 548.2L530.0 549.3M844.6 478.6L848.5 476.6M546.3 457.2L540.9 457.5M791.2 374.0L796.4 371.3M725.5 567.6L726.9 571.1M634.1 652.1L634.9 658.0M655.2 640.4L655.0 648.2M860.9 521.5L867.0 524.8M595.9 392.0L590.0 385.8M627.6 641.1L620.6 648.7M835.9 579.1L840.2 580.2M724.3 356.1L728.5 345.8M720.7 649.4L721.3 655.3M554.8 552.6L545.8 558.1M782.3 638.2L784.3 642.3M745.2 355.6L745.4 351.3M809.9 594.9L815.1 595.8" stroke="#b5c6e2" stroke-width="1.4" stroke-opacity="0.7"/>
<path d="M805.2 558.4L808.6 560.8M819.9 564.4L826.3 567.0M741.3 380.5L743.7 370.7M770.0 397.5L774.2 390.0M818.5 551.8L827.6 554.4M641.9 603.6L642.1 608.2M588.8 538.5L583.2 538.9M765.0 393.5L767.9 390.0M564.4 491.2L554.6 487.4M807.2 570.0L813.3 576.8M801.1 536.3L808.7 537.4M723.3 375.8L724.9 365.5M772.7 412.3L777.9 407.4M812.1 424.4L819.1 421.5" stroke="#fbdcb4" stroke-width="1.0" stroke-opacity="0.7"/>
<path d="M850.4 645.2L856.0 652.1M544.3 641.3L538.3 652.6M560.6 618.3L553.5 626.8M741.1 316.9L740.1 309.0M728.1 697.1L730.2 703.9M698.7 591.1L697.7 599.9M885.1 594.5L888.7 600.3M858.9 387.7L869.2 383.8M532.9 577.6L528.4 581.1M511.4 482.5L499.9 485.2M495.4 540.3L490.9 545.2M618.8 700.0L612.8 711.7" stroke="#fde3c0" stroke-width="1.2" stroke-opacity="0.7"/>
<path d="M864.5 567.7L874.8 569.3M641.4 669.0L642.6 676.9M780.1 357.0L786.2 351.8M843.4 404.1L847.5 399.3M532.5 565.9L521.5 570.5M842.1 578.0L852.2 581.5M864.3 553.0L872.9 557.1M801.4 374.1L806.8 367.9M619.1 654.5L616.5 663.0M857.3 432.8L865.6 432.6" stroke="#f6cfa0" stroke-width="1.8" stroke-opacity="0.7"/>
<path d="M632.5 592.7L629.4 595.2M499.6 465.6L491.4 460.9M805.1 581.7L812.7 588.6M592.4 469.4L588.8 468.8M825.3 464.5L829.4 464.6M874.5 399.1L883.3 389.6M513.0 429.7L501.5 426.7M575.1 470.5L568.9 471.4M813.9 451.2L816.5 447.6M616.4 572.8L611.9 577.9M760.1 701.2L764.7 706.9M552.8 637.6L544.4 641.0" stroke="#fbdcb4" stroke-width="1.6" stroke-opacity="0.7"/>
<path d="M644.4 584.4L639.5 591.1M512.2 439.5L503.0 439.4" stroke="#e28306" stroke-width="1.2" stroke-opacity="0.7"/>
<path d="M837.3 461.8L843.9 458.9M545.8 451.2L540.6 449.3M706.9 348.0L703.9 341.6" stroke="#e28306" stroke-width="1.4" stroke-opacity="0.7"/>
<path d="M644.5 619.0L639.0 627.7M685.5 703.4L684.0 714.8M893.6 448.6L903.7 444.7M599.6 680.8L593.5 689.6M504.5 479.0L495.0 480.3M686.5 702.7L684.0 713.6M590.2 559.3L586.4 563.6M601.7 581.2L598.3 583.0M594.7 451.8L585.5 449.4M665.6 615.2L663.4 621.1M822.9 515.6L833.5 514.2M493.9 489.9L485.4 488.6M852.5 371.6L858.5 371.7M527.1 402.3L517.8 397.8M902.8 456.5L907.2 451.2M837.2 646.7L842.4 652.0M651.0 695.5L647.0 700.9" stroke="#f6cfa0" stroke-width="1.6" stroke-opacity="0.7"/>
<path d="M664.7 564.7L661.8 566.8M725.0 364.1L726.3 358.4M584.9 610.1L579.2 612.2M644.5 672.6L639.7 681.8M547.6 459.2L536.0 458.9M720.9 649.8L720.3 659.0M853.3 594.3L856.6 597.3M662.3 348.7L659.8 340.6M757.8 665.1L759.1 675.1M611.9 629.8L606.8 634.9M850.3 434.1L860.9 429.8M848.0 460.5L859.4 460.3M699.6 652.3L697.1 661.1M837.9 544.6L845.4 548.0M808.4 405.5L813.6 400.2M556.0 400.1L554.1 394.7M788.9 657.2L791.4 669.5M667.5 665.4L668.7 674.9M841.9 418.4L848.1 418.6" stroke="#f6cfa0" stroke-width="1.1" stroke-opacity="0.7"/>
<path d="M715.1 624.8L715.0 635.7M720.0 387.7L718.9 382.7" stroke="#8c9cc0" stroke-width="1.3" stroke-opacity="0.7"/>
<path d="M507.8 560.2L499.5 558.6M722.8 390.9L722.2 382.4M795.9 580.1L801.0 583.9M621.8 308.3L617.8 303.2M813.3 543.8L820.9 546.9M733.6 627.1L735.1 633.8M625.5 581.1L623.0 587.0M617.3 318.3L612.9 309.2M604.2 454.2L595.6 448.6M839.7 350.1L849.3 344.2" stroke="#c6d6ee" stroke-width="1.6" stroke-opacity="0.7"/>
<path d="M778.9 381.1L783.1 375.5M581.7 589.1L575.9 591.0M826.7 560.6L835.0 564.2M834.8 562.6L844.4 564.5M558.3 551.0L548.8 556.9M840.8 505.3L849.1 505.1M577.6 583.0L572.7 582.6M852.3 498.1L856.4 499.5M692.7 366.2L692.2 357.7M705.9 657.7L707.1 666.7" stroke="#f6cfa0" stroke-width="1.7" stroke-opacity="0.7"/>
<path d="M731.7 579.5L734.7 587.0" stroke="#8c9cc0" stroke-width="0.9" stroke-opacity="0.7"/>
<path d="M832.3 398.3L842.0 394.3M855.0 416.7L859.2 414.6M776.7 654.7L782.4 663.4M667.4 321.3L669.4 313.0M874.7 476.8L883.4 473.2M678.4 694.6L679.4 706.0M676.4 669.8L674.3 678.5M605.8 641.0L598.8 646.7M590.6 351.1L584.8 340.6M513.2 527.8L504.0 532.2M566.8 641.4L560.6 645.5M618.3 672.2L614.1 676.0M647.7 594.1L640.7 601.7M858.6 410.3L866.1 406.0M638.1 681.3L632.0 688.6M537.6 562.6L526.9 567.5M545.1 386.0L535.6 381.7M892.9 484.5L897.8 480.0M633.6 577.8L628.2 585.1" stroke="#fde3c0" stroke-width="1.5" stroke-opacity="0.7"/>
<path d="M655.0 582.8L653.3 589.5M702.8 592.2L704.4 598.0M865.8 601.2L877.4 606.8M818.2 383.3L821.4 376.1M872.9 594.0L884.6 595.8M725.0 586.5L728.3 592.2M636.3 579.6L631.2 587.8M671.3 313.1L669.6 303.5M744.6 580.1L746.2 584.7M868.4 456.3L879.7 453.7M616.8 663.6L614.4 671.5M868.1 514.0L872.1 514.9M684.0 608.2L684.6 612.3M827.4 369.0L831.4 364.2M523.8 431.4L518.4 428.8M879.7 459.1L891.0 452.3M808.3 340.2L810.6 334.7M522.7 509.2L514.6 512.2M879.5 450.3L885.9 450.9M554.4 379.0L547.7 373.9" stroke="#c6d6ee" stroke-width="1.5" stroke-opacity="0.7"/>
<path d="M834.0 347.6L842.9 339.6M710.3 704.8L714.4 717.3M774.9 691.3L779.1 701.0M600.7 327.6L595.1 323.7M802.9 578.5L809.3 584.8M677.6 612.0L678.2 618.1M521.8 590.0L511.7 592.3M815.5 538.0L823.2 539.8M702.2 391.5L699.9 385.7M811.7 559.4L816.6 559.0M585.1 439.3L578.4 436.6M824.1 540.4L833.7 541.8M583.6 518.4L576.5 518.4M589.4 519.6L584.8 521.2M580.0 452.7L570.4 451.2M502.7 522.1L489.8 523.6M692.6 615.2L693.3 620.1M491.9 502.8L479.4 506.7" stroke="#b5c6e2" stroke-width="1.6" stroke-opacity="0.7"/>
<path d="M564.4 639.5L561.0 645.6M527.9 576.8L524.8 581.9M903.4 475.4L913.2 470.4M629.9 696.5L624.4 708.5M682.9 690.6L680.2 694.7M868.8 621.8L875.4 621.9M642.2 693.9L638.6 698.0M866.9 396.7L872.8 388.3M796.9 684.8L799.7 694.9M899.8 472.5L909.9 467.3M750.4 301.4L748.9 289.2M887.9 428.7L897.7 420.8" stroke="#f6cfa0" stroke-width="1.9" stroke-opacity="0.7"/>
<path d="M837.4 606.6L843.6 613.9M538.9 510.7L534.6 513.0M631.3 339.0L631.6 333.9M601.8 369.8L596.6 359.2M735.6 359.4L737.7 354.4M861.3 488.3L869.8 487.4M555.1 529.8L548.4 527.9M633.1 668.1L632.7 674.3M576.1 610.1L568.8 614.7M831.9 580.1L840.5 585.2M698.7 663.4L696.5 667.5M643.8 650.5L639.6 658.1M850.4 520.9L860.2 521.8" stroke="#fbdcb4" stroke-width="1.1" stroke-opacity="0.7"/>
<path d="M813.2 375.9L817.7 367.4M868.4 529.4L875.8 530.2M587.3 613.9L582.5 620.9M857.5 592.2L862.6 596.2M808.3 385.0L812.3 378.3M812.7 627.6L814.0 633.4M862.7 475.1L869.1 475.5M712.3 337.3L711.5 325.5M623.6 654.9L616.2 662.3M807.3 382.5L813.1 380.5M869.6 477.4L880.2 478.5M584.0 615.8L581.0 621.6M538.2 481.4L530.0 480.0M553.8 562.0L547.1 567.4M631.9 652.4L625.8 661.1M835.3 617.4L838.6 625.2" stroke="#c6d6ee" stroke-width="1.8" stroke-opacity="0.7"/>
<path d="M557.5 549.2L547.8 554.5M547.5 562.0L541.3 566.4M612.3 624.7L607.2 631.9M559.7 452.0L551.7 449.3M592.7 607.7L588.1 613.3M859.6 510.4L867.4 510.5M564.0 496.5L553.2 496.7M593.4 377.0L588.2 369.8M755.3 345.1L758.6 341.4M790.3 375.3L794.8 372.4M681.4 580.8L680.5 590.1M834.5 452.6L845.3 449.9M742.7 644.6L743.7 648.6M553.1 436.6L548.2 431.8M857.8 519.8L862.9 521.6M858.3 512.7L865.8 512.7M766.5 361.5L767.3 356.5M837.3 476.2L843.4 476.0M721.1 367.1L722.4 360.8M700.2 640.2L702.4 647.6M556.3 481.5L552.1 483.2" stroke="#fde3c0" stroke-width="1.4" stroke-opacity="0.7"/>
<path d="M579.7 360.0L572.2 353.4M644.4 586.4L641.2 590.7M532.9 484.8L528.5 483.5M718.1 327.1L716.1 315.6M592.5 348.9L591.9 342.8M669.7 595.8L667.4 603.9M824.6 627.8L834.7 632.5M663.5 328.6L664.4 317.7M600.1 513.9L593.1 514.7M693.6 311.3L695.2 304.0M814.4 355.9L815.3 349.2M526.2 554.4L514.5 555.6M789.9 334.1L793.6 327.0M524.1 583.0L518.8 587.4M859.2 439.8L868.9 436.8M866.6 427.8L873.9 423.4M599.1 634.4L596.6 639.3M660.6 599.2L659.3 604.9" stroke="#d0e2f8" stroke-width="1.5" stroke-opacity="0.7"/>
<path d="M794.4 614.9L799.8 625.2M622.3 614.3L616.2 620.7M579.0 447.3L569.6 442.7M851.4 505.4L862.2 508.2M852.2 480.5L861.3 480.1M571.1 475.8L564.2 473.3M591.5 590.1L588.4 593.5M552.2 484.7L547.3 484.7M830.5 582.4L836.6 590.2M844.7 497.3L855.1 495.5" stroke="#d0e2f8" stroke-width="1.7" stroke-opacity="0.7"/>
<path d="M831.3 594.8L839.3 598.0M695.3 351.1L694.4 347.0M551.9 476.1L547.7 475.0M834.0 401.3L842.0 397.9M854.8 537.2L866.1 539.1M667.0 641.7L667.4 646.1M553.2 428.1L547.5 423.6M856.4 544.2L864.3 547.4M864.4 491.9L869.2 489.5M846.8 583.2L854.9 589.3M563.3 577.4L557.1 579.5M737.0 658.4L740.0 667.2M622.8 630.7L620.3 635.5M549.2 494.1L541.0 492.6M567.4 403.4L560.9 398.2M687.2 677.4L682.9 685.9M587.9 383.0L587.2 377.5" stroke="#fde3c0" stroke-width="1.1" stroke-opacity="0.7"/>
<path d="M738.7 701.4L739.6 710.4M783.4 688.2L783.7 698.0M800.2 455.7L806.0 451.7M761.2 693.2L767.8 703.4M747.5 391.7L749.4 384.7M750.2 385.9L755.0 378.4M532.1 615.4L522.9 618.0M890.6 580.2L895.9 579.3M581.4 335.7L578.8 332.0M788.9 682.1L794.3 691.3M773.5 410.2L779.5 405.5M813.5 670.9L816.9 680.3M888.9 572.7L898.8 578.3M837.8 659.5L847.7 667.5M741.2 607.5L743.9 615.6M590.4 462.3L584.2 458.8" stroke="#fde3c0" stroke-width="1.6" stroke-opacity="0.7"/>
<path d="M558.0 559.9L551.1 565.2M815.5 398.4L819.2 391.6M560.8 460.3L553.6 460.3M609.0 377.4L604.1 372.5M742.7 373.0L743.8 368.4M701.0 636.2L700.8 643.7M555.6 558.1L547.9 558.0M800.7 590.4L808.8 596.3M840.6 557.9L846.9 558.0M630.0 620.8L622.4 628.9M806.3 588.1L811.1 595.8M728.4 641.4L730.4 652.3M846.3 558.4L853.0 559.6" stroke="#b5c6e2" stroke-width="1.7" stroke-opacity="0.7"/>
<path d="M691.3 615.3L691.5 623.6M780.7 583.6L787.7 590.7M565.5 528.0L559.6 528.6M754.4 597.7L758.0 604.5M644.5 622.4L642.1 631.6M815.4 471.8L825.0 468.2M592.8 441.9L583.4 437.0M806.1 445.4L811.8 441.8M679.6 614.5L679.4 625.3M754.3 594.1L758.5 602.5M586.5 549.0L579.5 551.5M762.4 612.9L768.8 620.6M699.6 623.4L698.0 633.3M827.7 490.5L831.6 492.4" stroke="#b5c6e2" stroke-width="1.0" stroke-opacity="0.7"/>
<path d="M811.6 412.4L815.5 405.2M840.6 448.0L850.4 446.0M812.4 421.4L821.3 418.6M651.1 642.0L646.3 646.4M587.8 581.5L582.3 583.5M669.5 652.2L667.0 662.3M552.0 507.8L544.0 504.8M734.8 358.4L735.5 350.3M814.8 609.8L816.6 616.0M810.2 404.2L814.3 402.1" stroke="#c6d6ee" stroke-width="1.7" stroke-opacity="0.7"/>
<path d="M756.7 602.0L762.3 608.6M833.9 507.2L841.1 508.9M577.7 475.3L570.6 472.2M628.4 601.0L622.0 608.3M598.6 544.3L591.9 544.6M785.2 400.9L791.0 394.8M694.8 622.5L694.1 633.1M580.0 449.7L576.6 448.1M692.7 613.6L693.8 619.0M708.4 621.0L710.8 625.6M580.3 442.0L575.6 438.7M692.7 628.9L691.0 639.1" stroke="#c6d6ee" stroke-width="1.0" stroke-opacity="0.7"/>
<path d="M715.3 315.5L716.4 309.2M868.6 384.1L878.6 378.9M759.3 324.0L764.4 318.4M770.2 677.4L776.4 686.9M618.8 325.3L617.3 316.4M896.2 510.8L904.0 507.5M879.9 408.7L889.3 404.2M548.3 637.0L546.1 641.8M781.0 674.9L784.0 679.9M833.2 640.2L839.2 651.8M830.1 364.2L837.9 355.7M636.0 318.3L632.3 310.0M825.6 366.5L832.6 360.6M659.7 704.9L656.6 716.6M538.0 619.7L532.5 625.3M904.4 459.7L913.6 456.5M743.7 704.8L741.5 715.2M828.4 366.7L830.3 361.4M608.5 341.6L603.3 330.1" stroke="#fde3c0" stroke-width="1.9" stroke-opacity="0.7"/>
<path d="M506.8 542.3L502.9 546.0M903.6 465.0L915.4 465.3M584.2 645.0L580.1 653.0M735.1 688.2L738.7 697.1M850.0 626.5L851.5 631.9M651.6 326.1L648.1 314.5M499.2 537.1L487.7 535.2M636.0 319.3L630.5 314.2M853.1 632.5L857.9 641.2" stroke="#b5c6e2" stroke-width="1.9" stroke-opacity="0.7"/>
<path d="M872.4 451.7L881.5 451.9M871.4 467.9L884.1 468.6M550.9 585.9L545.1 592.3M825.0 628.2L828.8 635.0M773.3 343.9L775.4 331.4M859.4 521.6L864.6 520.4M555.7 415.5L544.6 410.5M848.3 419.2L854.5 415.7M851.8 603.6L860.0 609.9M858.0 484.2L866.7 483.0M845.3 601.6L852.8 607.0M810.0 381.0L813.5 374.1M529.3 520.6L524.6 522.2M875.4 473.5L882.1 470.5M567.7 396.2L559.1 390.9M544.0 513.0L539.0 513.7" stroke="#b5c6e2" stroke-width="1.8" stroke-opacity="0.7"/>
<path d="M764.0 591.6L766.0 596.2M589.5 543.3L584.0 546.3M770.9 618.3L775.9 623.6M806.5 530.7L812.4 530.4M774.5 588.3L779.9 594.1M721.1 619.3L720.3 626.2M590.1 449.5L581.9 445.1M706.5 373.0L705.0 362.8M747.0 610.5L750.9 615.2M823.8 459.1L831.0 458.3M589.4 512.5L582.1 513.4" stroke="#d0e2f8" stroke-width="1.0" stroke-opacity="0.7"/>
<path d="M853.4 403.1L859.2 395.3M587.8 347.8L582.9 344.6M660.0 675.4L654.5 686.2M603.2 504.0L594.7 506.1M775.8 326.4L777.6 320.0M678.9 318.6L678.8 312.4M869.6 602.6L877.1 610.8M848.9 627.9L860.8 632.7M697.6 696.7L697.7 708.8M510.8 536.2L504.9 534.3M632.9 571.4L629.0 575.7M855.3 429.5L862.0 422.6M665.6 685.8L663.4 694.1M895.8 496.8L903.2 497.7M848.5 395.1L853.7 389.7M687.6 314.0L686.9 308.3M615.0 561.4L610.2 562.7M885.0 460.8L898.4 462.0M717.0 593.5L717.0 601.8M816.1 366.7L817.4 361.4M657.3 671.3L651.5 678.5" stroke="#f6cfa0" stroke-width="1.5" stroke-opacity="0.7"/>
<path d="M741.7 348.6L741.2 341.4M615.0 367.4L613.3 361.9M853.5 430.3L858.8 424.5M654.3 654.2L652.6 662.4M581.4 635.2L572.9 643.9M553.7 397.4L548.0 395.0M759.2 670.8L758.5 679.7M849.0 416.3L857.8 413.6M854.4 566.7L861.9 568.9M581.9 368.2L579.4 360.1M708.0 679.9L705.2 690.4" stroke="#fbdcb4" stroke-width="1.8" stroke-opacity="0.7"/>
<path d="M826.9 389.0L830.8 382.6M560.7 611.8L551.3 619.5M860.2 571.1L868.8 576.6M789.0 328.6L792.8 319.6M631.2 656.3L626.4 658.8M797.8 640.9L807.2 648.7M876.4 559.3L886.9 566.5M655.0 329.8L652.6 324.1M826.3 647.9L830.9 658.5M756.3 339.6L759.5 334.9M556.0 402.8L548.1 395.3M842.2 614.5L846.4 619.5M566.2 635.6L560.8 636.7M609.6 344.4L605.7 333.8M762.7 681.1L762.6 693.7M605.7 354.7L603.0 343.9" stroke="#fbdcb4" stroke-width="1.5" stroke-opacity="0.7"/>
<path d="M668.0 366.9L666.4 360.2M544.9 475.8L537.4 476.2M842.5 520.2L849.6 519.2M799.4 374.8L800.3 368.3M852.6 478.6L858.0 480.0M730.5 564.1L734.8 571.0M767.4 645.7L770.0 650.8M548.6 551.0L538.1 551.8M543.1 480.6L535.0 478.7M698.3 573.8L698.4 578.9M696.1 641.8L693.0 647.2M680.7 560.7L679.9 565.9M840.4 504.6L845.8 502.0M746.5 633.4L749.0 641.7M642.5 627.6L639.3 635.6M801.8 390.4L805.9 385.9" stroke="#c6d6ee" stroke-width="1.4" stroke-opacity="0.7"/>
<path d="M866.6 488.7L876.7 486.1M571.0 572.6L564.5 578.3M759.3 358.9L761.4 353.6M775.3 351.4L782.0 345.8M594.3 362.6L587.8 356.7M555.7 537.7L547.4 542.5M558.3 423.8L550.2 420.5M729.0 566.1L731.6 574.2M553.2 427.3L543.8 421.4M734.0 345.0L735.0 333.5M671.1 640.5L668.4 650.1M728.6 665.9L728.9 676.0M720.0 668.5L723.5 674.2M677.4 564.3L674.9 569.7M844.3 466.7L849.7 465.6M804.9 596.9L810.3 598.9M829.2 389.1L832.4 382.7M839.9 557.7L846.6 558.7" stroke="#c6d6ee" stroke-width="1.1" stroke-opacity="0.7"/>
<path d="M834.7 541.9L839.4 540.5M813.7 382.3L820.2 372.4M564.4 480.0L558.9 480.1M830.5 456.3L833.8 454.1M595.4 591.7L587.9 595.4M686.3 643.8L685.6 650.1" stroke="#f6cfa0" stroke-width="1.4" stroke-opacity="0.7"/>
<path d="M756.2 315.6L761.3 304.3M586.1 657.7L583.0 663.9M522.8 422.8L510.2 420.0M723.2 696.2L726.6 704.6M875.4 428.1L887.9 424.9M508.2 550.5L499.4 551.6M674.0 314.2L669.2 303.5M895.9 480.7L907.0 483.5M786.9 315.8L794.5 307.8M537.2 584.6L529.9 589.3M870.5 614.4L875.3 622.2M881.8 443.6L888.7 443.1" stroke="#fbdcb4" stroke-width="1.9" stroke-opacity="0.7"/>
<path d="M836.0 390.5L843.4 384.7M762.6 672.2L763.9 683.6M876.5 546.8L882.7 545.2M703.1 325.9L706.0 317.3M656.7 331.5L649.9 321.0M625.6 644.7L621.8 655.5M859.7 417.4L869.5 409.4M847.0 425.2L849.5 420.3" stroke="#d0e2f8" stroke-width="1.8" stroke-opacity="0.7"/>
<path d="M586.7 513.6L577.0 515.7M807.3 562.8L814.8 567.4M812.0 541.8L815.4 545.6M656.8 623.8L653.8 631.8M809.0 430.4L813.7 426.4M641.9 598.3L639.4 601.9M691.0 607.3L691.1 612.6M594.0 506.8L589.9 508.4M708.5 386.8L711.2 378.4" stroke="#b5c6e2" stroke-width="1.3" stroke-opacity="0.7"/>
<path d="M854.8 644.3L860.6 648.9M868.8 404.5L875.1 398.9M509.3 441.8L500.6 437.9M820.8 649.7L828.5 659.8M757.8 692.3L763.1 697.1M512.5 446.5L504.0 447.7M724.9 683.6L725.0 694.7M811.1 354.9L815.7 351.2M601.9 686.6L600.0 694.6M585.1 649.0L578.6 652.1M620.3 338.9L614.0 328.3M726.2 708.0L728.9 721.0M703.9 602.5L704.8 611.3M684.1 322.9L681.9 312.0M523.1 466.8L518.1 463.6M737.1 571.9L738.4 576.4" stroke="#f6cfa0" stroke-width="1.2" stroke-opacity="0.7"/>
<path d="M847.4 638.0L851.2 641.4M739.5 307.2L745.0 296.7M786.7 689.7L793.7 700.4M658.9 682.8L654.3 691.5M810.5 332.1L813.2 328.4" stroke="#8c9cc0" stroke-width="1.9" stroke-opacity="0.7"/>
<path d="M591.4 516.2L582.1 517.0" stroke="#e3a050" stroke-width="1.3" stroke-opacity="0.7"/>
<path d="M889.8 558.1L898.5 556.9M762.9 327.9L766.6 317.3M666.7 307.6L667.1 298.1M552.4 634.7L546.7 643.4M519.4 540.9L508.7 542.4M823.8 364.7L830.0 359.9M883.8 553.9L891.3 558.2M733.5 695.9L733.9 705.9" stroke="#d0e2f8" stroke-width="1.9" stroke-opacity="0.7"/>
<path d="M683.2 635.6L682.4 641.9M580.6 480.0L570.7 479.5M833.7 481.8L840.3 480.0M699.5 384.8L699.1 380.1M832.6 496.2L842.8 494.4M695.5 388.1L696.1 383.9M769.6 382.2L770.9 374.9M750.7 389.2L755.1 383.9M593.2 470.3L584.2 465.9M596.0 535.9L588.0 536.2M621.0 578.0L614.5 584.8M591.6 526.8L585.0 529.9M808.6 463.7L814.2 462.0M789.3 425.8L794.6 418.9M582.5 510.0L578.1 510.9M792.2 397.3L796.7 392.1M705.5 621.9L706.3 626.2" stroke="#f6cfa0" stroke-width="1.0" stroke-opacity="0.7"/>
<path d="M856.9 406.6L861.8 401.4M888.0 509.8L895.0 511.9M869.6 582.2L879.4 589.2M723.6 328.0L728.2 318.7M846.7 410.4L851.6 406.0M850.9 415.5L857.9 409.3M818.2 645.7L826.6 652.7M728.3 328.4L726.5 317.5M551.5 617.4L542.0 621.4M876.8 553.9L882.4 556.5M608.5 529.1L605.9 532.0M522.9 488.8L511.9 489.4M799.4 364.8L805.7 356.2M845.0 404.3L852.6 397.3M875.8 469.2L880.3 467.4M676.7 682.4L678.8 694.5M781.3 669.3L782.5 678.3M623.4 575.4L618.5 582.0" stroke="#b5c6e2" stroke-width="1.5" stroke-opacity="0.7"/>
<path d="M581.3 516.8L571.1 517.6M791.5 434.7L793.3 430.9M812.2 504.3L819.4 505.0M577.6 448.5L568.9 442.6M717.7 371.7L718.1 362.7M815.5 516.0L819.9 517.0M580.7 525.5L572.3 529.6M826.7 527.0L831.0 527.9M797.4 407.7L806.1 401.3" stroke="#fde3c0" stroke-width="1.0" stroke-opacity="0.7"/>
<path d="M504.1 454.6L492.7 449.1M583.4 529.9L579.3 532.9M864.9 633.3L871.7 641.9M663.7 305.2L666.0 296.4M572.9 491.3L566.1 491.5M893.3 569.0L896.8 572.9M601.8 561.1L596.9 561.7M563.2 654.9L558.5 662.0M798.8 418.3L803.1 416.7M818.8 488.9L826.8 488.6M499.4 509.8L489.0 510.5" stroke="#d0e2f8" stroke-width="1.6" stroke-opacity="0.7"/>
<path d="M620.2 362.5L619.2 355.2M666.4 565.8L662.0 571.2M815.2 603.4L820.7 606.6M681.4 661.1L680.1 671.8M763.4 665.3L768.7 669.5M871.4 461.5L880.2 458.6M741.2 354.4L743.0 346.8M552.8 563.0L544.8 564.7M552.7 467.2L543.8 468.4M548.5 491.0L539.7 487.8M844.3 521.6L853.8 521.2M626.7 348.3L627.9 342.3" stroke="#b5c6e2" stroke-width="1.1" stroke-opacity="0.7"/>
<path d="M715.2 589.9L714.8 598.4M670.9 593.1L671.8 596.9M701.5 596.4L702.2 603.0" stroke="#f6cfa0" stroke-width="0.9" stroke-opacity="0.7"/>
<path d="M783.0 634.6L785.1 644.4M675.5 653.6L677.0 660.7M760.3 620.9L762.6 631.1M602.8 603.9L598.6 609.2M804.2 594.6L807.9 596.8M745.7 630.2L747.2 639.7M552.4 504.1L540.9 503.5M708.3 651.5L709.5 663.1M667.0 358.7L663.1 348.6M547.9 526.1L544.4 529.7M556.7 513.3L546.0 512.6M560.1 497.2L549.2 498.7M739.3 368.6L740.8 362.0" stroke="#fbdcb4" stroke-width="1.7" stroke-opacity="0.7"/>
<path d="M534.5 523.5L525.6 521.6M777.3 649.1L781.5 652.0" stroke="#475784" stroke-width="1.1" stroke-opacity="0.7"/>
<path d="M728.0 633.0L731.0 640.6" stroke="#8c9cc0" stroke-width="1.0" stroke-opacity="0.7"/>
<path d="M827.2 618.6L833.1 620.2M569.7 618.7L564.6 621.9M575.5 627.2L570.9 636.5M581.8 609.8L572.9 613.4M557.0 596.7L548.5 600.3M807.0 647.9L815.1 654.7M566.6 613.6L562.3 615.6" stroke="#fde3c0" stroke-width="1.8" stroke-opacity="0.7"/>
<path d="M646.4 608.6L642.7 616.6M707.5 618.3L709.6 625.9" stroke="#e28306" stroke-width="1.0" stroke-opacity="0.7"/>
<path d="M730.4 591.6L733.1 599.1M735.8 590.3L739.2 597.8M658.5 568.8L654.0 576.1" stroke="#d0e2f8" stroke-width="0.9" stroke-opacity="0.7"/>
<path d="M683.3 333.1L680.8 324.9M663.7 669.8L662.5 676.7" stroke="#8c9cc0" stroke-width="1.8" stroke-opacity="0.7"/>
<path d="M891.0 558.2L899.1 558.9M889.3 577.7L900.6 578.8" stroke="#e28306" stroke-width="1.6" stroke-opacity="0.7"/>
<path d="M683.4 652.7L685.1 661.3M569.2 448.2L558.1 446.4M566.6 594.6L562.7 599.6M839.7 576.2L848.2 580.9M831.6 604.6L838.4 609.4M658.7 638.6L657.5 642.4M558.8 497.1L549.2 498.3M593.9 623.6L588.9 629.0M556.5 499.6L547.0 499.9M745.7 355.0L744.1 349.8M552.0 475.4L546.9 476.5M583.4 601.9L575.6 605.9M788.0 372.2L791.3 364.4M628.5 628.7L626.0 636.8M836.0 530.5L845.2 531.2M604.7 614.5L600.9 617.2" stroke="#fbdcb4" stroke-width="1.4" stroke-opacity="0.7"/>
<path d="M571.4 480.1L561.6 478.7M584.0 463.9L579.6 462.9M662.2 601.5L660.8 609.2M669.6 605.4L668.5 609.4M817.6 435.0L823.3 432.3M649.3 616.4L649.4 621.6M785.0 401.7L791.9 394.0M809.8 431.9L814.9 426.2M737.1 620.3L735.8 624.7M726.7 616.6L731.3 624.9M590.0 478.3L583.6 474.6M785.7 409.4L790.9 404.0M586.1 439.8L583.5 436.1M806.0 432.3L812.3 430.5" stroke="#d0e2f8" stroke-width="1.3" stroke-opacity="0.7"/>
<path d="M692.2 588.5L690.3 594.0M725.1 572.6L727.5 578.7M658.3 571.6L654.8 576.6M661.3 593.7L660.6 600.3" stroke="#fbdcb4" stroke-width="0.9" stroke-opacity="0.7"/>
<path d="M853.2 617.5L857.7 624.0M526.1 449.5L519.6 449.0M691.0 686.3L687.2 693.3M509.3 484.1L498.5 483.6M888.4 441.1L899.1 433.5M891.9 492.5L897.4 491.1M679.3 574.0L678.3 581.3M755.9 308.4L758.7 297.3M758.9 326.5L760.6 321.8M514.6 531.0L509.4 532.0M534.3 595.6L524.1 599.7M731.1 577.6L733.9 580.3M522.7 469.9L512.2 469.3" stroke="#d0e2f8" stroke-width="1.2" stroke-opacity="0.7"/>
<path d="M589.4 592.2L579.9 597.5M549.8 426.2L544.7 425.9" stroke="#e3a050" stroke-width="1.1" stroke-opacity="0.7"/>
<path d="M725.4 699.1L726.8 711.1M595.6 465.2L587.9 462.5M816.2 662.2L820.7 670.5M668.0 628.7L667.9 639.5" stroke="#475784" stroke-width="1.6" stroke-opacity="0.7"/>
<path d="M797.4 600.6L799.1 606.1M560.5 482.9L556.4 481.6M555.9 529.7L543.9 528.6M836.2 521.0L845.5 525.2" stroke="#8c9cc0" stroke-width="1.7" stroke-opacity="0.7"/>
<path d="M688.3 316.3L689.8 311.0M752.9 337.4L754.7 329.9M821.0 370.0L827.2 359.9" stroke="#475784" stroke-width="1.5" stroke-opacity="0.7"/>
<path d="M611.6 548.1L604.4 549.8M739.0 615.1L740.5 623.1M634.3 621.5L631.1 630.3" stroke="#ea5a00" stroke-width="1.0" stroke-opacity="0.7"/>
<path d="M861.7 625.0L866.2 631.1M838.7 648.1L842.6 651.4M739.6 296.8L739.8 288.9" stroke="#475784" stroke-width="1.2" stroke-opacity="0.7"/>
<path d="M672.7 598.3L671.8 602.4M745.1 395.2L746.7 387.9M828.7 480.5L835.7 479.7" stroke="#475784" stroke-width="1.0" stroke-opacity="0.7"/>
<path d="M635.7 607.0L630.7 612.2M584.0 438.6L575.0 433.3M794.3 588.0L801.4 592.1M771.2 405.7L779.0 399.3M736.3 606.0L740.2 615.2M595.5 571.4L591.0 574.4M799.6 561.3L808.0 563.5M747.8 619.6L751.2 628.5M819.6 519.4L828.2 523.0" stroke="#fde3c0" stroke-width="1.3" stroke-opacity="0.7"/>
<path d="M586.6 682.5L583.0 694.3M659.4 711.3L656.8 723.1M713.0 713.3L714.6 719.1" stroke="#f6cfa0" stroke-width="2.0" stroke-opacity="0.7"/>
<path d="M694.1 661.3L695.3 666.4M712.2 638.3L710.2 649.5M613.0 640.2L611.7 646.6" stroke="#8c9cc0" stroke-width="1.4" stroke-opacity="0.7"/>
<path d="M723.4 586.5L726.9 594.7" stroke="#8c9cc0" stroke-width="1.5" stroke-opacity="0.7"/>
<path d="M704.1 686.2L706.0 690.9" stroke="#475784" stroke-width="1.9" stroke-opacity="0.7"/>
<path d="M557.9 646.2L550.3 652.8M529.4 428.5L525.9 424.5" stroke="#e3a050" stroke-width="1.2" stroke-opacity="0.7"/>
<path d="M805.9 687.8L810.7 699.8M626.8 694.7L628.5 702.1M499.1 490.5L494.6 489.7" stroke="#6878a4" stroke-width="1.6" stroke-opacity="0.7"/>
<path d="M812.2 511.0L821.4 510.0M593.4 554.8L587.1 556.9M712.2 619.7L714.7 626.4M835.8 502.8L843.6 504.3M680.6 621.5L679.3 628.5M753.3 607.9L758.1 616.8M592.3 491.2L588.1 490.0M595.8 567.5L593.2 571.0" stroke="#fbdcb4" stroke-width="1.3" stroke-opacity="0.7"/>
<path d="M803.6 601.0L812.2 608.0" stroke="#e28306" stroke-width="1.7" stroke-opacity="0.7"/>
<path d="M846.5 585.9L855.1 587.0M705.3 660.7L705.7 668.2" stroke="#e3a050" stroke-width="1.8" stroke-opacity="0.7"/>
<path d="M911.2 503.7L920.4 500.6M573.0 668.1L565.0 674.4" stroke="#c6d6ee" stroke-width="2.0" stroke-opacity="0.7"/>
<path d="M520.3 424.0L512.2 422.8M882.2 538.2L889.2 543.5" stroke="#8c9cc0" stroke-width="1.2" stroke-opacity="0.7"/>
<path d="M814.0 458.9L818.6 455.5M721.2 619.5L724.7 625.6M763.6 609.9L766.4 620.3M668.9 610.6L665.9 618.7M593.0 523.6L583.6 523.7" stroke="#f6cfa0" stroke-width="1.3" stroke-opacity="0.7"/>
<path d="M688.7 293.1L689.7 288.4M652.2 706.5L649.5 710.7M867.7 626.4L876.2 636.3" stroke="#fde3c0" stroke-width="2.0" stroke-opacity="0.7"/>
<path d="M608.7 691.8L606.9 696.5M590.2 684.9L588.5 692.4" stroke="#6878a4" stroke-width="1.2" stroke-opacity="0.7"/>
<path d="M867.0 516.2L875.1 517.6M767.9 671.2L769.9 675.1M706.5 675.8L708.1 680.6M756.4 689.5L757.1 701.4M525.9 500.6L519.4 499.4" stroke="#e28306" stroke-width="1.5" stroke-opacity="0.7"/>
<path d="M791.8 623.3L801.1 631.0M748.7 362.0L747.3 356.5M832.1 541.1L836.9 542.0" stroke="#ea5a00" stroke-width="1.7" stroke-opacity="0.7"/>
<path d="M553.0 554.1L547.7 553.6" stroke="#e28306" stroke-width="1.1" stroke-opacity="0.7"/>
<path d="M704.4 632.4L706.0 638.8" stroke="#8c9cc0" stroke-width="1.6" stroke-opacity="0.7"/>
<path d="M865.0 427.6L871.9 424.1M617.4 650.0L613.4 655.4" stroke="#6878a4" stroke-width="1.8" stroke-opacity="0.7"/>
<path d="M538.3 542.7L533.5 544.9M534.2 478.6L529.6 481.5" stroke="#ea5a00" stroke-width="1.8" stroke-opacity="0.7"/>
<path d="M642.4 654.8L638.0 658.5M848.0 575.4L853.1 577.7M858.9 544.9L868.5 549.2M814.9 363.3L822.1 356.9M655.1 651.9L651.2 657.6" stroke="#8c9cc0" stroke-width="1.1" stroke-opacity="0.7"/>
<path d="M794.8 692.6L801.1 700.2" stroke="#e3a050" stroke-width="2.0" stroke-opacity="0.7"/>
<path d="M704.8 617.6L702.4 625.9M640.7 603.9L637.2 611.3M582.2 468.2L574.6 467.1" stroke="#ea5a00" stroke-width="1.6" stroke-opacity="0.7"/>
<path d="M687.0 571.9L684.9 578.5M739.6 590.2L741.4 594.5M633.1 573.8L627.8 578.8" stroke="#c6d6ee" stroke-width="0.9" stroke-opacity="0.7"/>
<path d="M721.8 576.5L723.3 584.5M678.8 595.3L677.0 598.6" stroke="#fde3c0" stroke-width="0.9" stroke-opacity="0.7"/>
<path d="M542.2 531.8L532.9 532.8" stroke="#6878a4" stroke-width="1.1" stroke-opacity="0.7"/>
<path d="M555.3 652.8L547.0 655.9M511.5 413.3L504.6 406.5" stroke="#fbdcb4" stroke-width="2.0" stroke-opacity="0.7"/>
<path d="M713.5 598.0L713.4 605.7" stroke="#e28306" stroke-width="0.9" stroke-opacity="0.7"/>
<path d="M792.5 675.0L799.1 682.6M724.9 691.8L727.8 701.6" stroke="#e3a050" stroke-width="1.5" stroke-opacity="0.7"/>
<path d="M882.4 494.0L894.6 495.3" stroke="#475784" stroke-width="1.8" stroke-opacity="0.7"/>
<path d="M815.7 435.4L820.5 433.7" stroke="#e3a050" stroke-width="1.0" stroke-opacity="0.7"/>
<path d="M728.7 713.2L725.1 719.9" stroke="#d0e2f8" stroke-width="2.0" stroke-opacity="0.7"/>
<path d="M677.0 623.3L675.8 627.2" stroke="#475784" stroke-width="1.3" stroke-opacity="0.7"/>
<path d="M736.7 704.4L735.1 718.1" stroke="#ea5a00" stroke-width="1.9" stroke-opacity="0.7"/>
<path d="M830.8 536.1L838.3 539.2" stroke="#e28306" stroke-width="1.3" stroke-opacity="0.7"/>
<path d="M851.7 570.5L855.8 574.0" stroke="#e3a050" stroke-width="1.4" stroke-opacity="0.7"/>
<path d="M537.5 520.5L533.0 518.1M748.3 339.1L752.0 334.1M531.7 541.5L525.6 543.7" stroke="#e28306" stroke-width="1.8" stroke-opacity="0.7"/>
<path d="M680.6 577.0L679.9 584.2" stroke="#ea5a00" stroke-width="1.4" stroke-opacity="0.7"/>
<path d="M677.2 572.3L675.8 579.9" stroke="#b5c6e2" stroke-width="0.9" stroke-opacity="0.7"/>
<path d="M733.1 691.4L735.2 696.0" stroke="#ea5a00" stroke-width="1.5" stroke-opacity="0.7"/>
<path d="M691.1 702.6L689.3 709.5M812.6 550.9L820.3 553.6" stroke="#e3a050" stroke-width="1.6" stroke-opacity="0.7"/>
</g>
<g fill="#fff"><path d="M652 457 L663 454 L665 460 L655 463Z"/><path d="M611 515 L617 514 L622 524 L627 531 L629 541 L624 540 L618 530Z"/><path d="M629 549 L642 549 L642 556 L630 556Z"/><path d="M789 417 L797 419 L797 426 L790 425Z"/><path d="M795 591 L800 592 L800 596 L795 596Z"/><path d="M770 601 L774 601 L774 605 L770 605Z"/><path d="M827 597 L831 597 L831 601 L827 601Z"/></g>
<path d="M804.7 210.3 L745.5 391.6" stroke="#fff" stroke-width="1" fill="none" stroke-opacity="0.95"/>
<defs><filter id="sb" x="-5%" y="-5%" width="110%" height="110%"><feGaussianBlur stdDeviation="1.1"/></filter></defs><g filter="url(#sb)" fill="none" stroke-linecap="round" stroke-linejoin="round"><path d="M451 317 L456 326 L462 333 L470 336 L478 337 L481 341" stroke="#f62c00" stroke-width="4" stroke-opacity="1"/><path d="M460 331 L468 335 L476 336" stroke="#c01228" stroke-width="2.5" stroke-opacity="1"/><path d="M468 342 L476 354 L484 364 L494 370 L504 375" stroke="#f62c00" stroke-width="4.2" stroke-opacity="1"/><path d="M480 360 L490 368" stroke="#c01228" stroke-width="2" stroke-opacity="1"/><path d="M451 327 L459 344 L471 360 L484 373 L500 381" stroke="#2f3f6c" stroke-width="3.6" stroke-opacity="1"/><path d="M446 330 L452 345 L462 360" stroke="#8c9cc0" stroke-width="3" stroke-opacity="1"/><path d="M455 372 L460 380 L468 390 L478 398 L488 401" stroke="#ea5a00" stroke-width="3" stroke-opacity="1"/><path d="M510 384 L520 380.5 L528 385" stroke="#2f3f6c" stroke-width="3.6" stroke-opacity="1"/><path d="M371 398 L388 405 L404 415 L420 423 L434 427 L446 430" stroke="#2f3f6c" stroke-width="4.2" stroke-opacity="0.9"/><path d="M360 410 L378 420 L398 430" stroke="#5a6b9a" stroke-width="3.5" stroke-opacity="0.75"/><path d="M400 424 L414 431" stroke="#2f3f6c" stroke-width="3.2" stroke-opacity="0.7"/><path d="M492 449 L506 449.5 L520 443 L529 437" stroke="#ea5a00" stroke-width="3" stroke-opacity="1"/><path d="M500 450 L510 450" stroke="#f62c00" stroke-width="2" stroke-opacity="1"/><path d="M440 446 L452 443" stroke="#e28306" stroke-width="3" stroke-opacity="1"/><ellipse cx="527" cy="292" rx="3.2" ry="3.8" transform="rotate(0 527 292)" fill="#f62c00" stroke="none"/><ellipse cx="485" cy="331" rx="2.6" ry="2.6" transform="rotate(0 485 331)" fill="#c01228" stroke="none"/><ellipse cx="521" cy="358" rx="2.4" ry="3.4" transform="rotate(0 521 358)" fill="#f62c00" stroke="none"/><path d="M530 358 L538 361" stroke="#f62c00" stroke-width="3" stroke-opacity="1"/><ellipse cx="489" cy="324" rx="3" ry="3.8" transform="rotate(-30 489 324)" fill="#2f3f6c" stroke="none"/><path d="M486 302 L491 312" stroke="#2f3f6c" stroke-width="3.6" stroke-opacity="1"/><path d="M534 364 L542 366" stroke="#2f3f6c" stroke-width="3.2" stroke-opacity="1"/><path d="M575.5 418 L577 426" stroke="#2f3f6c" stroke-width="3.4" stroke-opacity="0.9"/><path d="M574.5 431 L576 436" stroke="#5a6b9a" stroke-width="3" stroke-opacity="0.8"/><path d="M576.5 443 L580 452 L584.5 458.5 L590 462" stroke="#2f3f6c" stroke-width="4" stroke-opacity="0.9"/><path d="M584 468 L592 478 L600 486" stroke="#5a6b9a" stroke-width="3" stroke-opacity="0.6"/><path d="M586 413 L588 418" stroke="#5a6b9a" stroke-width="3" stroke-opacity="0.8"/><path d="M586 452 L590 460" stroke="#3a3d48" stroke-width="2" stroke-opacity="1"/><path d="M816 217 L824 210 L831 207.5" stroke="#f62c00" stroke-width="5.8" stroke-opacity="1"/><path d="M834 214 L842 212 L851 212" stroke="#f62c00" stroke-width="5.2" stroke-opacity="1"/><path d="M791 233 L794 223 L800 217" stroke="#f62c00" stroke-width="5.8" stroke-opacity="1"/><path d="M806 223 L812 216" stroke="#f62c00" stroke-width="4.9" stroke-opacity="1"/><path d="M767 216 L770 223 L773 231" stroke="#f62c00" stroke-width="5.8" stroke-opacity="1"/><path d="M752 228 L754 240 L761 246" stroke="#f62c00" stroke-width="6.7" stroke-opacity="1"/><path d="M766 200 L768 208" stroke="#ea5a00" stroke-width="4.6" stroke-opacity="1"/><ellipse cx="764" cy="247" rx="3" ry="3" transform="rotate(0 764 247)" fill="#c01228" stroke="none"/><ellipse cx="772" cy="248" rx="3" ry="3" transform="rotate(0 772 248)" fill="#3a3d48" stroke="none"/><path d="M757 232 L759 243" stroke="#2f3f6c" stroke-width="4.6" stroke-opacity="1"/><path d="M747 226 L749 244" stroke="#5a6b9a" stroke-width="4.3" stroke-opacity="1"/><path d="M804 238 L812 240 L818 234" stroke="#2f3f6c" stroke-width="5.1" stroke-opacity="1"/><path d="M826 230 L829 240 L828 252 L824 257" stroke="#3a3d48" stroke-width="5.5" stroke-opacity="1"/><path d="M810 268 L818 263 L826 259" stroke="#2f3f6c" stroke-width="5.1" stroke-opacity="1"/><path d="M839 232 L840 241" stroke="#f62c00" stroke-width="4.3" stroke-opacity="1"/><path d="M834 244 L830 251" stroke="#f62c00" stroke-width="4.3" stroke-opacity="1"/><path d="M818 279 L820 285" stroke="#f62c00" stroke-width="4.3" stroke-opacity="1"/><path d="M822 243 L817 250" stroke="#ea5a00" stroke-width="3.8" stroke-opacity="1"/><path d="M813 250 L808 258" stroke="#ea5a00" stroke-width="3.8" stroke-opacity="1"/><path d="M858 223 L855 234" stroke="#e28306" stroke-width="4.3" stroke-opacity="1"/><path d="M874 252 L866 264" stroke="#ea5a00" stroke-width="4.9" stroke-opacity="1"/><path d="M882 264 L878 274" stroke="#2f3f6c" stroke-width="4.9" stroke-opacity="1"/><path d="M800 200 L803 212" stroke="#2f3f6c" stroke-width="6.5" stroke-opacity="1"/><path d="M797 168 L800 182 L801 194" stroke="#2f3f6c" stroke-width="6.4" stroke-opacity="0.85"/><path d="M790 170 L793 190" stroke="#5a6b9a" stroke-width="5.2" stroke-opacity="0.6"/><ellipse cx="800" cy="192" rx="2.4" ry="4" transform="rotate(0 800 192)" fill="#3a3d48" stroke="none"/><path d="M787 212 L792 218" stroke="#2f3f6c" stroke-width="5.8" stroke-opacity="1"/><path d="M884 306 L896 301 L910 301" stroke="#2f3f6c" stroke-width="5.8" stroke-opacity="1"/><path d="M890 309 L900 311 L905 317" stroke="#f62c00" stroke-width="5.2" stroke-opacity="1"/><path d="M902 322 L914 328" stroke="#2f3f6c" stroke-width="5.8" stroke-opacity="1"/><path d="M910 334 L918 332" stroke="#ea5a00" stroke-width="5.2" stroke-opacity="1"/><path d="M925 338 L927 350" stroke="#f62c00" stroke-width="4.9" stroke-opacity="1"/><path d="M912 373 L921 368 L930.5 364" stroke="#c01228" stroke-width="7.2" stroke-opacity="1"/><path d="M910 374 L918 370" stroke="#f62c00" stroke-width="4.3" stroke-opacity="1"/><path d="M919 380 L927 376 L934 371" stroke="#3a3d48" stroke-width="5.5" stroke-opacity="1"/><ellipse cx="903" cy="357" rx="3" ry="2.4" transform="rotate(0 903 357)" fill="#ea5a00" stroke="none"/><ellipse cx="912" cy="350" rx="2.6" ry="2.6" transform="rotate(0 912 350)" fill="#e28306" stroke="none"/><path d="M785 663 L792 673" stroke="#f62c00" stroke-width="3.6" stroke-opacity="1"/><path d="M797 679 L806 688" stroke="#ea5a00" stroke-width="3.4" stroke-opacity="1"/><path d="M806 666 L815 679" stroke="#f62c00" stroke-width="3.6" stroke-opacity="1"/><path d="M830 659 L838 669" stroke="#f62c00" stroke-width="3.4" stroke-opacity="1"/><path d="M825 662 L832 672" stroke="#2f3f6c" stroke-width="3" stroke-opacity="1"/><path d="M873 632 L884 640" stroke="#f62c00" stroke-width="4" stroke-opacity="1"/><path d="M868 638 L879 645" stroke="#2f3f6c" stroke-width="3.2" stroke-opacity="1"/><path d="M849 745 L855 755" stroke="#f62c00" stroke-width="3.6" stroke-opacity="1"/><ellipse cx="981" cy="617" rx="5" ry="2.4" transform="rotate(25 981 617)" fill="#e28306" stroke="none"/><ellipse cx="992" cy="623" rx="4" ry="2.6" transform="rotate(20 992 623)" fill="#ea5a00" stroke="none"/><ellipse cx="1003" cy="626" rx="6" ry="3" transform="rotate(15 1003 626)" fill="#ea5a00" stroke="none"/><ellipse cx="1014" cy="630" rx="4" ry="2.4" transform="rotate(10 1014 630)" fill="#f62c00" stroke="none"/><ellipse cx="1024" cy="626" rx="4" ry="2.6" transform="rotate(20 1024 626)" fill="#ea5a00" stroke="none"/><ellipse cx="1000" cy="633" rx="3" ry="2" transform="rotate(20 1000 633)" fill="#e28306" stroke="none"/><ellipse cx="1040" cy="635" rx="3" ry="2.4" transform="rotate(30 1040 635)" fill="#ea5a00" stroke="none"/><path d="M709 572 L711 590" stroke="#ea5a00" stroke-width="1.6" stroke-opacity="1"/><path d="M706 567 L707 585" stroke="#5a6b9a" stroke-width="2" stroke-opacity="1"/><path d="M714 776 L716.5 783" stroke="#f62c00" stroke-width="3" stroke-opacity="1"/><path d="M706 780 L705 789" stroke="#5a6b9a" stroke-width="3.6" stroke-opacity="1"/><ellipse cx="736" cy="744" rx="2.4" ry="2.4" transform="rotate(0 736 744)" fill="#ea5a00" stroke="none"/><ellipse cx="595" cy="653" rx="2.6" ry="3.4" transform="rotate(35 595 653)" fill="#f62c00" stroke="none"/><ellipse cx="571" cy="629" rx="2.4" ry="3.2" transform="rotate(35 571 629)" fill="#f62c00" stroke="none"/><ellipse cx="414" cy="595" rx="3.6" ry="2.4" transform="rotate(20 414 595)" fill="#ea5a00" stroke="none"/><ellipse cx="418" cy="518" rx="3.4" ry="2.2" transform="rotate(10 418 518)" fill="#ea5a00" stroke="none"/><ellipse cx="530.5" cy="584" rx="3" ry="2.2" transform="rotate(30 530.5 584)" fill="#ea5a00" stroke="none"/><ellipse cx="567.5" cy="673" rx="2.4" ry="3.2" transform="rotate(30 567.5 673)" fill="#ea5a00" stroke="none"/><ellipse cx="654.5" cy="699" rx="2.4" ry="3.4" transform="rotate(10 654.5 699)" fill="#ea5a00" stroke="none"/><ellipse cx="647" cy="692" rx="2.6" ry="3.6" transform="rotate(15 647 692)" fill="#2f3f6c" stroke="none"/><ellipse cx="585" cy="648" rx="2.8" ry="3.8" transform="rotate(35 585 648)" fill="#2f3f6c" stroke="none"/><ellipse cx="505" cy="588" rx="3" ry="2.2" transform="rotate(40 505 588)" fill="#2f3f6c" stroke="none"/><ellipse cx="575" cy="690" rx="2.8" ry="4" transform="rotate(30 575 690)" fill="#2f3f6c" stroke="none"/></g>
<path d="M700.0 534.0 L696.2 531.8 L694.0 528.0 L691.8 524.7 L688.8 523.5 L686.5 525.0 L687.2 529.5 L685.8 533.2 L683.5 537.8 L680.5 541.5 L676.8 543.8 L674.2 545.2 L675.2 549.0 L676.8 553.5 L678.2 557.2 L677.8 560.2 L685.0 561.8 L692.5 563.0 L700.0 563.7 L707.5 563.7 L715.0 562.8 L719.5 559.5 L721.8 555.8 L720.2 550.5 L717.2 545.2 L713.5 540.8 L709.0 537.5 L704.5 535.5Z" fill="#fff"/>
<path d="M368 392 L389 399.5 L406 410 L422 418.5 L434 423 L446 426.5 L458 430 L470 433" stroke="#fff" stroke-width="2.4" fill="none" transform="translate(-0.4 1.0)"/>
<path d="M703.0 399.5 L707.5 397.2 L715.0 396.2 L722.5 397.2 L730.0 399.5 L737.5 403.2 L743.5 406.2 L749.5 407.3 L755.5 407.8 L760.0 409.2 L763.0 407.8 L765.2 406.7 L766.8 409.2 L767.5 413.8 L769.3 417.5 L772.0 416.0 L776.5 415.2 L781.8 415.2 L786.2 416.8 L790.0 419.8 L793.0 422.8 L794.8 425.0 L797.5 423.5 L802.0 422.8 L805.8 424.2 L808.3 427.2 L808.8 431.0 L807.2 434.0 L808.3 437.8 L807.2 441.5 L808.8 445.2 L811.0 449.0 L811.8 453.5 L812.8 458.0 L814.0 460.2 L811.0 462.2 L807.2 464.0 L803.5 465.5 L800.8 467.8 L803.5 468.5 L805.8 470.0 L808.0 473.8 L811.8 476.8 L815.5 479.8 L819.2 483.5 L822.2 487.2 L822.2 485.2 L825.2 491.2 L827.2 498.0 L828.0 504.0 L828.2 510.0 L827.5 516.0 L827.2 522.0 L828.2 526.5 L829.0 531.0 L827.5 535.5 L824.5 539.2 L821.5 542.2 L820.0 545.2 L822.2 548.2 L823.0 552.0 L820.8 555.8 L817.0 558.8 L813.2 561.8 L810.2 565.5 L808.8 570.0 L805.8 573.8 L803.5 578.2 L799.8 580.5 L797.5 582.0 L799.0 585.0 L798.2 588.0 L795.2 591.8 L791.5 594.8 L787.0 597.8 L782.5 600.0 L778.0 601.5 L773.5 602.2 L769.0 601.8 L764.5 602.2 L760.0 603.8 L755.5 605.2 L751.0 606.0 L745.0 605.2 L739.0 603.8 L733.0 602.2 L727.0 600.8 L722.5 598.5 L718.8 596.2 L718.0 593.2 L720.2 590.2 L722.5 587.2 L721.8 583.5 L723.2 579.8 L724.0 575.2 L722.5 571.5 L721.0 567.8 L718.8 564.8 L717.2 562.2 L719.5 559.5 L720.2 555.8 L718.8 550.5 L716.5 546.0 L713.5 542.2 L709.8 539.2 L706.0 537.0 L703.0 535.8 L700.0 534.0 L696.2 531.8 L694.0 528.0 L691.8 524.7 L688.8 523.5 L686.5 525.0 L687.2 529.5 L685.8 533.2 L683.5 537.8 L680.5 541.5 L676.8 543.8 L674.2 545.2 L675.2 549.0 L676.8 553.5 L678.2 557.2 L677.5 561.0 L676.0 565.5 L673.8 566.2 L672.2 564.0 L671.5 561.0 L669.2 559.5 L666.2 560.2 L664.0 562.5 L661.8 564.8 L658.0 564.0 L653.5 562.5 L649.0 561.8 L644.5 560.2 L642.2 557.2 L641.5 553.5 L641.5 549.0 L637.8 549.8 L632.5 550.5 L628.8 550.8 L626.5 549.8 L627.2 546.8 L624.2 544.5 L623.5 541.5 L625.0 539.2 L627.2 540.0 L628.8 537.8 L628.0 534.8 L625.0 534.0 L622.8 532.5 L623.5 530.2 L625.0 528.0 L622.8 525.8 L620.5 523.5 L621.2 519.8 L620.5 516.8 L618.2 518.2 L616.0 520.5 L613.8 519.8 L612.2 517.5 L613.8 515.2 L614.5 512.2 L612.2 511.8 L610.0 513.8 L607.8 516.0 L606.2 519.0 L604.8 516.0 L605.5 512.2 L607.8 509.2 L609.2 504.0 L610.0 498.0 L608.8 500.0 L609.8 495.5 L610.7 491.0 L611.8 486.5 L611.0 484.2 L610.2 482.0 L611.8 479.8 L614.8 478.2 L616.2 476.0 L616.7 471.5 L615.8 467.0 L612.5 464.0 L608.0 462.5 L603.5 462.2 L599.3 461.8 L597.5 458.8 L593.0 457.2 L590.0 456.5 L589.2 458.8 L586.2 458.8 L584.8 455.8 L587.0 454.2 L586.2 451.2 L584.0 447.5 L582.5 443.8 L581.0 440.8 L578.8 442.2 L577.7 439.2 L578.8 435.5 L580.2 431.0 L579.5 426.5 L580.2 422.8 L581.0 419.3 L583.2 419.8 L582.5 423.5 L583.2 426.5 L582.5 431.0 L583.7 435.5 L584.8 439.2 L587.0 442.2 L588.5 445.2 L589.2 449.0 L590.8 452.0 L593.8 453.5 L597.5 453.5 L599.8 451.7 L602.8 450.5 L606.5 451.2 L610.2 452.0 L613.2 453.2 L616.2 454.2 L619.2 455.0 L622.2 456.5 L624.5 458.8 L627.5 460.2 L630.5 464.0 L633.5 467.0 L635.8 470.8 L637.2 475.2 L638.8 472.2 L641.0 468.5 L644.0 466.2 L648.5 464.8 L654.5 462.5 L659.0 460.2 L662.0 456.5 L663.8 452.0 L665.0 446.0 L666.5 440.0 L668.3 434.0 L669.5 428.0 L671.8 422.0 L675.5 416.8 L679.2 412.2 L681.5 409.2 L680.8 407.0 L682.2 405.5 L683.0 403.2 L685.2 402.5 L686.8 404.0 L689.0 402.5 L689.8 399.5 L692.0 399.2 L693.5 401.0 L695.8 400.2 L696.5 396.5 L698.8 396.5 L699.5 400.2 L701.8 401.8Z M432.0 277.0 L434.0 280.0 L435.6 286.0 L437.0 293.0 L438.4 299.0 L441.0 306.0 L442.0 312.0 L441.0 317.0 L438.0 321.0 L434.0 325.0 L431.0 328.0 L428.0 330.0 L425.6 331.6 L427.0 333.6 L431.0 332.4 L436.0 333.0 L442.0 333.6 L446.0 335.6 L449.0 340.0 L450.4 346.0 L449.6 352.0 L447.0 357.0 L444.4 362.0 L443.0 366.0 L446.0 368.0 L449.6 370.0 L452.4 373.0 L454.0 377.0 L452.0 380.0 L449.0 383.0 L450.0 385.6 L454.0 386.4 L458.0 387.0 L458.4 383.6 L461.0 383.0 L462.4 386.0 L461.6 389.0 L465.0 392.0 L468.0 396.0 L470.0 400.0 L471.0 405.0 L473.0 408.0 L478.0 408.0 L483.0 405.6 L486.0 404.4 L488.0 407.0 L488.4 411.0 L491.0 415.0 L494.0 418.0 L497.0 421.0 L498.0 424.0 L502.0 426.0 L507.0 427.0 L512.0 427.6 L517.0 427.0 L521.0 425.0 L524.0 422.0 L526.0 421.6 L526.4 425.0 L525.0 430.0 L522.4 434.0 L519.0 438.0 L514.0 441.0 L510.0 444.0 L506.0 446.4 L501.0 448.0 L496.0 447.6 L492.0 446.0 L488.0 445.0 L483.0 443.0 L478.0 441.0 L473.0 440.0 L469.0 441.0 L467.0 438.0 L465.0 436.0 L461.0 435.0 L456.0 432.0 L452.0 430.0 L449.0 431.0 L444.0 429.0 L440.0 427.0 L437.0 425.0 L434.0 424.0 L428.0 421.0 L422.0 419.0 L417.0 417.0 L412.0 415.0 L406.0 411.0 L400.0 407.0 L394.0 403.0 L389.0 400.0 L384.0 398.0 L379.0 396.0 L373.0 393.6 L368.0 391.6 L364.1 390.3 L365.9 385.0 L367.7 379.8 L369.7 374.6 L371.7 369.4 L373.9 364.2 L376.1 359.1 L378.3 354.1 L380.7 349.0 L383.1 344.0 L385.7 339.0 L388.3 334.1 L390.9 329.2 L393.7 324.4 L396.5 319.6 L399.4 314.8 L402.4 310.1 L405.4 305.5 L408.5 300.9 L411.7 296.3 L415.0 291.8 L418.3 287.3 L421.7 282.9 L425.2 278.6 L428.7 274.3Z M805.2 165.8 L805.8 171.2 L806.6 176.0 L806.4 180.8 L805.8 184.4 L804.0 186.2 L803.4 190.4 L803.8 194.6 L807.0 197.0 L809.4 200.0 L811.8 201.8 L816.0 201.8 L820.8 202.6 L825.6 202.4 L829.2 204.2 L832.8 205.4 L835.2 207.8 L837.6 209.0 L841.2 209.4 L844.8 209.6 L848.4 210.6 L852.0 210.8 L856.8 210.0 L861.6 209.0 L866.4 207.2 L871.2 205.4 L876.0 203.6 L879.6 202.4 L882.6 200.6 L884.4 197.6 L881.4 195.7 L878.3 193.9 L875.1 192.2 L872.0 190.4 L868.9 188.7 L865.7 187.1 L862.5 185.4 L859.3 183.8 L856.1 182.2 L852.9 180.7 L849.6 179.2 L846.4 177.7 L843.1 176.3 L839.8 174.9 L836.5 173.5 L833.2 172.1 L829.8 170.8 L826.5 169.5 L823.1 168.3 L819.8 167.1 L816.4 165.9 L813.0 164.8 L809.6 163.7 L806.2 162.6Z M1021.0 651.0 L1016.0 650.0 L1010.0 650.0 L1004.0 648.4 L999.0 646.0 L997.0 642.0 L994.0 640.4 L989.6 642.4 L986.0 645.0 L983.0 649.0 L981.6 654.0 L982.4 660.0 L984.0 665.0 L982.4 669.0 L979.0 673.0 L976.0 677.0 L974.0 682.0 L973.6 688.0 L974.4 694.0 L973.0 699.0 L971.0 703.0 L968.0 707.0 L966.0 712.0 L964.0 717.0 L961.0 722.0 L958.0 725.6 L954.0 728.4 L950.0 731.0 L946.0 733.0 L942.0 734.4 L939.0 734.0 L936.0 733.0 L932.0 732.0 L928.0 731.0 L925.0 730.0 L923.6 734.0 L924.0 742.0 L924.4 748.0 L922.0 745.0 L919.0 740.0 L917.0 735.0 L915.0 737.0 L915.6 742.0 L913.0 740.0 L911.0 736.0 L908.0 738.0 L904.0 738.0 L900.0 736.0 L896.0 733.6 L891.0 733.0 L886.0 734.0 L881.0 736.0 L877.0 738.0 L875.0 741.0 L873.0 745.0 L870.0 746.0 L866.0 744.0 L863.0 745.0 L861.0 749.0 L859.0 753.0 L856.0 757.0 L853.0 760.0 L852.0 764.0 L854.0 768.0 L856.0 773.0 L857.6 779.0 L858.4 786.0 L857.6 793.0 L856.4 800.0 L857.0 806.0 L859.0 811.0 L860.0 817.0 L861.3 819.6 L870.1 815.0 L878.7 810.2 L887.2 805.1 L895.6 799.9 L903.8 794.3 L911.9 788.6 L919.8 782.6 L927.5 776.4 L935.0 770.0 L942.4 763.4 L949.6 756.6 L956.6 749.6 L963.4 742.4 L969.9 735.0 L976.3 727.4 L982.5 719.7 L988.4 711.8 L994.2 703.7 L999.7 695.5 L1004.9 687.1 L1009.9 678.6 L1014.7 669.9 L1019.3 661.1 L1023.6 652.2Z M749.0 740.5 L752.0 741.0 L756.0 741.2 L758.5 742.0 L759.5 744.0 L758.8 747.0 L757.5 750.0 L756.0 752.5 L754.5 754.5 L752.5 756.5 L750.5 758.5 L749.0 760.0 L747.5 762.0 L746.0 764.0 L744.5 766.0 L743.5 768.0 L743.0 770.0 L741.5 771.5 L740.5 773.0 L740.0 775.5 L739.5 778.0 L738.0 780.0 L736.5 779.0 L735.5 777.5 L734.0 779.0 L732.0 778.0 L730.0 777.5 L728.5 776.0 L729.0 774.0 L730.0 772.0 L731.0 770.0 L732.0 768.0 L733.0 765.5 L734.0 763.0 L733.5 761.5 L735.0 760.5 L737.0 759.0 L738.5 757.0 L739.5 754.5 L740.0 751.5 L741.0 748.5 L742.5 745.5 L744.5 743.0 L746.5 741.2Z M724.0 776.0 L725.5 777.0 L726.2 779.0 L725.8 781.5 L725.5 784.0 L726.5 786.0 L729.0 787.5 L731.5 788.5 L733.0 789.5 L732.0 791.5 L730.5 793.0 L729.0 794.5 L728.0 797.0 L727.8 800.0 L728.5 802.5 L729.0 805.0 L729.0 805.2 L732.0 808.2 L735.0 811.8 L738.0 814.8 L740.4 818.4 L741.6 820.6 L739.2 820.8 L736.2 819.6 L733.2 816.0 L730.8 812.4 L728.4 809.4 L727.5 806.0 L726.2 807.0 L725.8 808.5 L724.5 807.5 L723.8 805.0 L723.0 802.5 L721.5 801.0 L719.0 800.5 L716.0 801.0 L713.5 802.0 L711.0 803.0 L709.5 802.5 L709.0 800.5 L710.0 798.0 L710.5 795.5 L712.0 794.0 L714.5 793.0 L716.5 791.5 L717.2 789.0 L717.8 786.0 L719.0 783.0 L720.5 780.0 L722.0 777.5Z M844.0 726.0 L846.0 722.0 L850.0 720.4 L855.0 722.4 L860.0 726.0 L863.0 729.0 L862.0 731.6 L857.0 733.0 L854.0 734.0 L851.6 738.0 L848.4 739.0 L846.0 735.0 L844.4 731.0Z M594.2 464.8 L599.0 464.0 L605.0 464.3 L610.2 465.8 L612.8 468.5 L612.8 472.2 L611.0 475.2 L608.0 477.5 L605.0 478.7 L603.5 476.8 L604.2 473.0 L604.7 470.0 L602.8 468.5 L599.0 468.2 L595.7 467.0Z" fill="#808080" stroke="#000" stroke-width="1" stroke-linejoin="round"/>
<path d="M596.9 473.3 L598.7 472.4 L600.5 473.6 L600.5 475.7 L598.7 476.9 L596.9 475.7Z M571.4 422.3 L572.6 422.0 L572.9 426.5 L572.3 430.2 L571.1 429.8 L571.0 425.8Z M585.2 390.2 L587.9 389.0 L588.8 390.5 L586.4 391.7Z M516.0 396.0 L517.6 392.0 L520.0 389.0 L522.4 388.4 L523.0 392.0 L521.6 396.0 L519.0 399.0 L516.4 399.6Z M909.0 733.0 L911.0 729.6 L914.4 728.0 L916.0 729.6 L914.0 733.0 L910.4 734.4Z M750.6 737.8 L752.2 735.0 L753.0 736.0 L752.6 739.0Z M684.2 552.0 L685.8 552.8 L686.2 555.8 L685.0 558.8 L683.2 559.5 L682.3 557.2 L682.8 554.2Z" fill="#808080" stroke="#000" stroke-width="0.9" stroke-linejoin="round"/>
<path d="M438.4 421.2 L444 423 L449.6 426.4 M452 428.4 L457 430 L461.6 431.6" stroke="#fff" stroke-width="0.9" fill="none"/>
<path d="M508 431 L513 430 L515 435 M509 440 L513 437 M488 443 L496 446 L505 446" stroke="#000" stroke-width="0.8" fill="none"/>
<g fill="none" stroke="#111" stroke-opacity="0.9" stroke-width="1.1" stroke-dasharray="1.1 2.8"><circle cx="701.4" cy="502.2" r="32.0"/><circle cx="701.4" cy="502.2" r="96.7"/><circle cx="701.4" cy="502.2" r="163.5"/><circle cx="701.4" cy="502.2" r="234.3"/><circle cx="701.4" cy="502.2" r="311.0"/><line x1="701.4" y1="502.2" x2="701.4" y2="149.8"/><line x1="701.4" y1="502.2" x2="877.6" y2="197.0"/><line x1="701.4" y1="502.2" x2="1006.6" y2="326.0"/><line x1="701.4" y1="502.2" x2="1053.8" y2="502.2"/><line x1="701.4" y1="502.2" x2="1006.6" y2="678.4"/><line x1="701.4" y1="502.2" x2="877.6" y2="807.4"/><line x1="701.4" y1="502.2" x2="701.4" y2="854.6"/><line x1="701.4" y1="502.2" x2="525.2" y2="807.4"/><line x1="701.4" y1="502.2" x2="396.2" y2="678.4"/><line x1="701.4" y1="502.2" x2="349.0" y2="502.2"/><line x1="701.4" y1="502.2" x2="396.2" y2="326.0"/><line x1="701.4" y1="502.2" x2="525.2" y2="197.0"/></g>
<path d="M701.4 502.2 L701.4 494.7M701.4 502.2 L705.1 495.7M701.4 502.2 L707.9 498.4M701.4 502.2 L708.9 502.2M701.4 502.2 L707.9 505.9M701.4 502.2 L705.1 508.7M701.4 502.2 L701.4 509.7M701.4 502.2 L697.6 508.7M701.4 502.2 L694.9 505.9M701.4 502.2 L693.9 502.2M701.4 502.2 L694.9 498.4M701.4 502.2 L697.6 495.7" stroke="#000" stroke-width="1" fill="none"/>
<circle cx="701.4" cy="502.2" r="1.8" fill="#000"/>
</g>
<circle cx="701.4" cy="502.2" r="352.4" fill="none" stroke="#000" stroke-width="1.1"/>
<line x1="701.4" y1="502.2" x2="701.4" y2="534.6" stroke="#000" stroke-width="1"/>
<line x1="693.6" y1="534.6" x2="706.8" y2="534.6" stroke="#000" stroke-width="1"/>
<text x="716.4" y="546.2" font-size="16.5" fill="#000">84<tspan font-size="13.6" dy="-7.2">o</tspan><tspan dy="7.2">S</tspan></text>
<line x1="690.0" y1="599.0" x2="703.8" y2="599.0" stroke="#000" stroke-width="1"/>
<text x="714.0" y="609.8" font-size="16.5" fill="#000">72<tspan font-size="13.6" dy="-7.2">o</tspan><tspan dy="7.2">S</tspan></text>
<line x1="687.0" y1="665.6" x2="701.4" y2="665.6" stroke="#000" stroke-width="1"/>
<text x="708.6" y="676.2" font-size="16.5" fill="#000">60<tspan font-size="13.6" dy="-7.2">o</tspan><tspan dy="7.2">S</tspan></text>
<line x1="683.4" y1="736.4" x2="698.4" y2="736.4" stroke="#000" stroke-width="1"/>
<text x="705.6" y="747.0" font-size="16.5" fill="#000">48<tspan font-size="13.6" dy="-7.2">o</tspan><tspan dy="7.2">S</tspan></text>
<line x1="680.0" y1="813.0" x2="692.4" y2="813.0" stroke="#000" stroke-width="1"/>
<text x="702.0" y="823.8" font-size="16.5" fill="#000">36<tspan font-size="13.6" dy="-7.2">o</tspan><tspan dy="7.2">S</tspan></text>
<line x1="701.4" y1="149.8" x2="701.4" y2="142.8" stroke="#000" stroke-width="1"/>
<text transform="translate(703.8 132.6) rotate(0)" x="0" y="5.8" text-anchor="middle" font-size="16.5" fill="#000">0<tspan font-size="13.6" dy="-7.2">o</tspan><tspan dy="7.2"></tspan></text>
<line x1="877.6" y1="197.0" x2="881.1" y2="191.0" stroke="#000" stroke-width="1"/>
<text transform="translate(887.6 184.3) rotate(30)" x="0" y="5.8" text-anchor="middle" font-size="16.5" fill="#000">30<tspan font-size="13.6" dy="-7.2">o</tspan><tspan dy="7.2">E</tspan></text>
<line x1="1006.6" y1="326.0" x2="1012.6" y2="322.5" stroke="#000" stroke-width="1"/>
<text transform="translate(1022.8 319.0) rotate(60)" x="0" y="5.8" text-anchor="middle" font-size="16.5" fill="#000">60<tspan font-size="13.6" dy="-7.2">o</tspan><tspan dy="7.2">E</tspan></text>
<line x1="1053.8" y1="502.2" x2="1060.8" y2="502.2" stroke="#000" stroke-width="1"/>
<text transform="translate(1070.8 503.5) rotate(90)" x="0" y="5.8" text-anchor="middle" font-size="16.5" fill="#000">90<tspan font-size="13.6" dy="-7.2">o</tspan><tspan dy="7.2">E</tspan></text>
<line x1="1006.6" y1="678.4" x2="1012.6" y2="681.9" stroke="#000" stroke-width="1"/>
<text transform="translate(1027.1 688.1) rotate(-60)" x="0" y="5.8" text-anchor="middle" font-size="16.5" fill="#000">120<tspan font-size="13.6" dy="-7.2">o</tspan><tspan dy="7.2">E</tspan></text>
<line x1="877.6" y1="807.4" x2="881.1" y2="813.4" stroke="#000" stroke-width="1"/>
<text transform="translate(889.1 827.4) rotate(-30)" x="0" y="5.8" text-anchor="middle" font-size="16.5" fill="#000">150<tspan font-size="13.6" dy="-7.2">o</tspan><tspan dy="7.2">E</tspan></text>
<line x1="701.4" y1="854.6" x2="701.4" y2="861.6" stroke="#000" stroke-width="1"/>
<text transform="translate(702.2 877.9) rotate(0)" x="0" y="5.8" text-anchor="middle" font-size="16.5" fill="#000">180<tspan font-size="13.6" dy="-7.2">o</tspan><tspan dy="7.2">W</tspan></text>
<line x1="525.2" y1="807.4" x2="521.7" y2="813.4" stroke="#000" stroke-width="1"/>
<text transform="translate(515.4 828.4) rotate(30)" x="0" y="5.8" text-anchor="middle" font-size="16.5" fill="#000">150<tspan font-size="13.6" dy="-7.2">o</tspan><tspan dy="7.2">W</tspan></text>
<line x1="396.2" y1="678.4" x2="390.2" y2="681.9" stroke="#000" stroke-width="1"/>
<text transform="translate(377.0 690.0) rotate(60)" x="0" y="5.8" text-anchor="middle" font-size="16.5" fill="#000">120<tspan font-size="13.6" dy="-7.2">o</tspan><tspan dy="7.2">W</tspan></text>
<line x1="349.0" y1="502.2" x2="342.0" y2="502.2" stroke="#000" stroke-width="1"/>
<text transform="translate(332.0 500.2) rotate(-90)" x="0" y="5.8" text-anchor="middle" font-size="16.5" fill="#000">90<tspan font-size="13.6" dy="-7.2">o</tspan><tspan dy="7.2">W</tspan></text>
<line x1="396.2" y1="326.0" x2="390.2" y2="322.5" stroke="#000" stroke-width="1"/>
<text transform="translate(381.5 316.2) rotate(-60)" x="0" y="5.8" text-anchor="middle" font-size="16.5" fill="#000">60<tspan font-size="13.6" dy="-7.2">o</tspan><tspan dy="7.2">W</tspan></text>
<line x1="525.2" y1="197.0" x2="521.7" y2="191.0" stroke="#000" stroke-width="1"/>
<text transform="translate(518.9 180.3) rotate(-30)" x="0" y="5.8" text-anchor="middle" font-size="16.5" fill="#000">30<tspan font-size="13.6" dy="-7.2">o</tspan><tspan dy="7.2">W</tspan></text>
<text x="344.6" y="67.8" font-size="31" font-weight="bold" textLength="722.7" lengthAdjust="spacing" fill="#000">AVHRR Zonal Sea Surface Temperature Gradient</text>
<text x="638.3" y="108.2" font-size="25" font-weight="bold" textLength="126.9" lengthAdjust="spacing" fill="#000">2012-02-10</text>
<rect x="376.3" y="911.4" width="658.3" height="19.0" fill="url(#cmap)" stroke="#262626" stroke-width="1"/>
<text x="376.7" y="956" text-anchor="middle" font-size="17" fill="#262626">-0.06</text>
<line x1="486.0" y1="924.2" x2="486.0" y2="930.4" stroke="#262626" stroke-width="1"/>
<text x="486.4" y="956" text-anchor="middle" font-size="17" fill="#262626">-0.04</text>
<line x1="595.7" y1="924.2" x2="595.7" y2="930.4" stroke="#262626" stroke-width="1"/>
<text x="596.1" y="956" text-anchor="middle" font-size="17" fill="#262626">-0.02</text>
<line x1="705.5" y1="924.2" x2="705.5" y2="930.4" stroke="#262626" stroke-width="1"/>
<text x="705.9" y="956" text-anchor="middle" font-size="17" fill="#262626">0</text>
<line x1="815.2" y1="924.2" x2="815.2" y2="930.4" stroke="#262626" stroke-width="1"/>
<text x="815.6" y="956" text-anchor="middle" font-size="17" fill="#262626">0.02</text>
<line x1="924.9" y1="924.2" x2="924.9" y2="930.4" stroke="#262626" stroke-width="1"/>
<text x="925.3" y="956" text-anchor="middle" font-size="17" fill="#262626">0.04</text>
<text x="1035.0" y="956" text-anchor="middle" font-size="17" fill="#262626">0.06</text>
<circle cx="686.4" cy="970" r="2.2" fill="none" stroke="#262626" stroke-width="0.9"/>
<text x="690.2" y="979.1" font-size="16.8" fill="#262626">C/km</text>
</svg></body></html>
